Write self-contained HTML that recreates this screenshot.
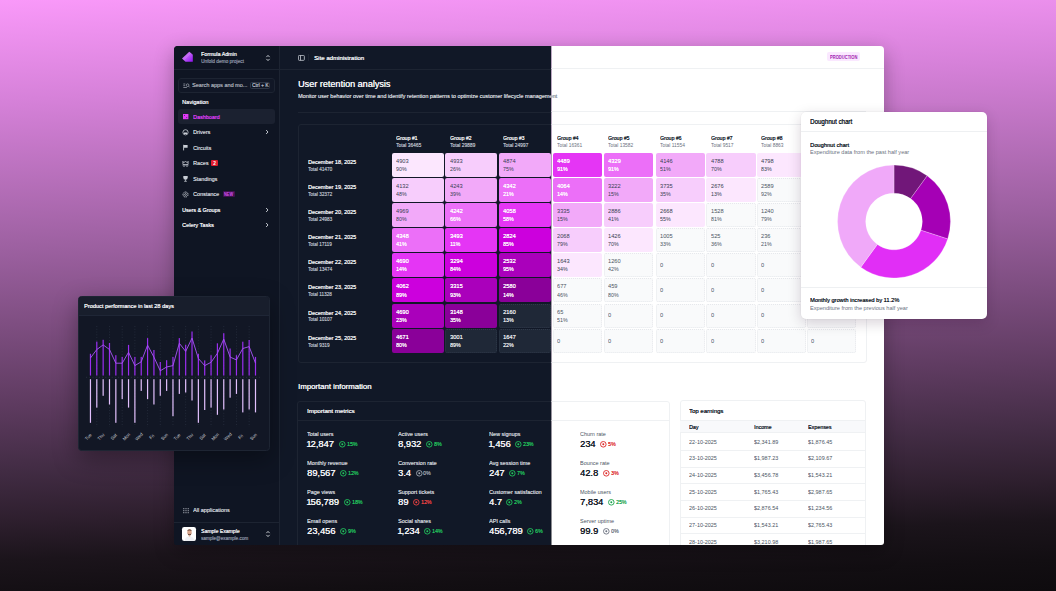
<!DOCTYPE html><html><head><meta charset="utf-8"><style>
*{margin:0;padding:0;box-sizing:border-box}
html,body{width:1056px;height:591px;overflow:hidden}
body{position:relative;font-family:"Liberation Sans", sans-serif;background:linear-gradient(177.8deg,rgb(249,153,249) 0px,rgb(214,129,217) 100px,rgb(156,96,160) 250px,rgb(96,60,98) 400px,rgb(66,44,68) 470px,rgb(46,31,46) 520px,rgb(27,20,27) 560px,rgb(18,14,18) 600px,rgb(14,11,14) 631px)}
.t{position:absolute;white-space:nowrap}
.r{position:absolute}
.abs{position:absolute}
#panel{position:absolute;left:174px;top:46px;width:710px;height:499px;border-radius:4px 4px 3px 3px;overflow:hidden;box-shadow:0 6px 20px rgba(0,0,0,.30)}
.inner{position:absolute;left:-174px;top:-46px;width:1056px;height:591px}
#dark{background:#111827;clip-path:inset(0 504.5px 0 0)}
#light{background:#ffffff;clip-path:inset(0 0 0 551.5px)}

</style></head><body>
<div id="panel">
<div id="dark" class="inner">
<div class="r" style="left:174.00px;top:46.00px;width:105.00px;height:545.00px;background:#0f1523"></div>
<div class="r" style="left:279.00px;top:46.00px;width:1.00px;height:545.00px;background:#1d2432"></div>
<div class="r" style="left:174.00px;top:68.80px;width:710.00px;height:1.00px;background:#1d2432"></div>
<svg class="abs" style="left:180px;top:50px" width="16" height="14" viewBox="180 50 16 14"><defs><linearGradient id="lg" x1="0" y1="0" x2="1" y2="1"><stop offset="0" stop-color="#f0a8fb"/><stop offset="0.45" stop-color="#c060f8"/><stop offset="1" stop-color="#9010f0"/></linearGradient></defs><polygon points="182,58.5 189.3,51.7 190.9,53 192.8,54.8 192.8,61.7 185.5,61.7" fill="url(#lg)"/><path d="M183.8 59.9 L190.4 53.3" stroke="#e8b0fb" stroke-width="0.5" opacity="0.6"/></svg>
<div class="t" style="left:200.95px;top:52px;font-size:5.4px;line-height:5.4px;color:#f3f4f6;font-weight:400;transform-origin:0 0;transform:scaleX(0.9824);text-shadow:0.3px 0 0 #f3f4f6;">Formula Admin</div>
<div class="t" style="left:200.65px;top:59px;font-size:5.1px;line-height:5.1px;color:#8b93a3;font-weight:400;transform-origin:0 0;transform:scaleX(0.9422);text-shadow:0.15px 0 0 #8b93a3;">Unfold demo project</div>
<svg class="abs" style="left:264.6px;top:53.7px" width="6" height="8" viewBox="0 0 6 8"><path d="M1.4 3.1 L3 1.4 L4.6 3.1 M1.4 4.9 L3 6.6 L4.6 4.9" stroke="#d4d8de" stroke-width="0.9" fill="none"/></svg>
<div class="r" style="left:177.50px;top:78.20px;width:97.50px;height:14.60px;border:0.9px solid #1d2432;border-radius:3px;background:#111726"></div>
<svg class="abs" style="left:182.5px;top:83px" width="8" height="6" viewBox="0 0 8 6"><g stroke="#a3a9b4" stroke-width="0.7" fill="none"><path d="M0.3 1h2 M0.3 2.7h1.8 M0.3 4.5h3.6"/><circle cx="4.6" cy="2.2" r="1.35"/><path d="M5.6 3.2l1.1 1.2"/></g></svg>
<div class="t" style="left:192.15px;top:82px;font-size:6.1px;line-height:6.1px;color:#a3a9b4;font-weight:400;transform-origin:0 0;transform:scaleX(0.9021);text-shadow:0.15px 0 0 #a3a9b4;">Search apps and mo...</div>
<div class="r" style="left:250.00px;top:82.20px;width:20.00px;height:6.50px;border:0.7px solid #2f3747;border-radius:1.5px;background:#121826"></div>
<div class="t" style="left:251.95px;top:84px;font-size:4.5px;line-height:4.5px;color:#b4bac4;font-weight:400;transform-origin:0 0;transform:scaleX(1.0899);text-shadow:0.15px 0 0 #b4bac4;">Ctrl + K</div>
<div class="t" style="left:182.15px;top:100px;font-size:5.5px;line-height:5.5px;color:#eef0f3;font-weight:400;transform-origin:0 0;transform:scaleX(1.0163);text-shadow:0.3px 0 0 #eef0f3;">Navigation</div>
<div class="r" style="left:178.00px;top:109.40px;width:97.00px;height:14.50px;background:#1b2130;border-radius:3px"></div>
<svg class="abs" style="left:182.8px;top:113.8px" width="6" height="6" viewBox="0 0 6 6"><rect x="0" y="0" width="5.4" height="5.2" fill="#e03af6"/><rect x="1.1" y="1.1" width="0.9" height="0.9" fill="#3a1a6a"/><rect x="3.3" y="3.2" width="0.9" height="0.9" fill="#3a1a6a"/></svg>
<div class="t" style="left:193.35px;top:115px;font-size:5.8px;line-height:5.8px;color:#d83cf0;font-weight:400;transform-origin:0 0;transform:scaleX(0.9398);text-shadow:0.3px 0 0 #d83cf0;">Dashboard</div>
<svg class="abs" style="left:182px;top:128.70px" width="7" height="7" viewBox="0 0 7 7"><circle cx="3.5" cy="3.3" r="2.6" fill="none" stroke="#c9ced6" stroke-width="0.8"/><path d="M2 3.6 h3 v1.3 h-3z" fill="#c9ced6"/></svg>
<div class="t" style="left:193.35px;top:130px;font-size:5.95px;line-height:5.95px;color:#c9ced6;font-weight:400;transform-origin:0 0;transform:scaleX(0.9211);text-shadow:0.15px 0 0 #c9ced6;">Drivers</div>
<svg class="abs" style="left:182px;top:144.20px" width="7" height="7" viewBox="0 0 7 7"><path d="M1.6 0.8 v5.6" stroke="#c9ced6" stroke-width="0.9"/><path d="M2 1 h3.6 v2.8 h-3.6z" fill="#c9ced6"/></svg>
<div class="t" style="left:193.35px;top:146px;font-size:5.95px;line-height:5.95px;color:#c9ced6;font-weight:400;transform-origin:0 0;transform:scaleX(0.9211);text-shadow:0.15px 0 0 #c9ced6;">Circuits</div>
<svg class="abs" style="left:182px;top:159.70px" width="7" height="7" viewBox="0 0 7 7"><path d="M0.9 1.3 l1 1.5 l1.6-1.8 l1.6 1.8 l1-1.5 v3.2 h-5.2z" fill="none" stroke="#c9ced6" stroke-width="0.75"/><circle cx="2" cy="5.6" r="0.9" fill="none" stroke="#c9ced6" stroke-width="0.6"/><circle cx="5" cy="5.6" r="0.9" fill="none" stroke="#c9ced6" stroke-width="0.6"/></svg>
<div class="t" style="left:193.35px;top:161px;font-size:5.95px;line-height:5.95px;color:#c9ced6;font-weight:400;transform-origin:0 0;transform:scaleX(0.9211);text-shadow:0.15px 0 0 #c9ced6;">Races</div>
<svg class="abs" style="left:182px;top:175.30px" width="7" height="7" viewBox="0 0 7 7"><path d="M1.3 0.9 h4.4 v1.6 a2.2 2.2 0 0 1 -4.4 0z" fill="#c9ced6"/><path d="M3.5 4.5 v1.4 M2.2 6.3 h2.6" stroke="#c9ced6" stroke-width="0.8"/></svg>
<div class="t" style="left:193.35px;top:177px;font-size:5.95px;line-height:5.95px;color:#c9ced6;font-weight:400;transform-origin:0 0;transform:scaleX(0.9211);text-shadow:0.15px 0 0 #c9ced6;">Standings</div>
<svg class="abs" style="left:182px;top:190.70px" width="7" height="7" viewBox="0 0 7 7"><circle cx="3.5" cy="3.5" r="2.5" fill="none" stroke="#c9ced6" stroke-width="0.9" stroke-dasharray="1.6 0.6"/><circle cx="3.5" cy="3.5" r="0.9" fill="none" stroke="#c9ced6" stroke-width="0.7"/></svg>
<div class="t" style="left:193.35px;top:192px;font-size:5.95px;line-height:5.95px;color:#c9ced6;font-weight:400;transform-origin:0 0;transform:scaleX(0.9211);text-shadow:0.15px 0 0 #c9ced6;">Constance</div>
<svg class="abs" style="left:265px;top:129.3px" width="4" height="6" viewBox="0 0 4 6"><path d="M1.1 1 L3 3 L1.1 5" stroke="#c7cbd3" stroke-width="0.95" fill="none"/></svg>
<div class="r" style="left:210.90px;top:159.90px;width:7.10px;height:6.60px;background:#e11d2e;border-radius:1px"></div>
<div class="t" style="left:213.15px;top:162px;font-size:4.8px;line-height:4.8px;color:#fff;font-weight:700;">2</div>
<div class="r" style="left:222.60px;top:191.10px;width:12.20px;height:6.10px;background:#3f1150;border-radius:1px"></div>
<div class="t" style="left:224.15px;top:193px;font-size:4.5px;line-height:4.5px;color:#d651f0;font-weight:700;transform-origin:0 0;transform:scaleX(0.8631);">NEW</div>
<div class="t" style="left:182.15px;top:208px;font-size:5.5px;line-height:5.5px;color:#eef0f3;font-weight:400;transform-origin:0 0;transform:scaleX(0.9755);text-shadow:0.3px 0 0 #eef0f3;">Users &amp; Groups</div>
<svg class="abs" style="left:265px;top:207.2px" width="4" height="6" viewBox="0 0 4 6"><path d="M1.1 1 L3 3 L1.1 5" stroke="#c7cbd3" stroke-width="0.95" fill="none"/></svg>
<div class="t" style="left:182.15px;top:223px;font-size:5.5px;line-height:5.5px;color:#eef0f3;font-weight:400;transform-origin:0 0;transform:scaleX(1.0114);text-shadow:0.3px 0 0 #eef0f3;">Celery Tasks</div>
<svg class="abs" style="left:265px;top:222.2px" width="4" height="6" viewBox="0 0 4 6"><path d="M1.1 1 L3 3 L1.1 5" stroke="#c7cbd3" stroke-width="0.95" fill="none"/></svg>
<svg class="abs" style="left:182.5px;top:507.7px" width="7" height="7" viewBox="0 0 7 7"><g fill="#c3c8d0"><rect x="0.3" y="0.2" width="1" height="1"/><rect x="2.5" y="0.2" width="1" height="1"/><rect x="4.7" y="0.2" width="1" height="1"/><rect x="0.3" y="2.2" width="1" height="1"/><rect x="2.5" y="2.2" width="1" height="1"/><rect x="4.7" y="2.2" width="1" height="1"/><rect x="0.3" y="4.2" width="1" height="1"/><rect x="2.5" y="4.2" width="1" height="1"/><rect x="4.7" y="4.2" width="1" height="1"/></g></svg>
<div class="t" style="left:193.25px;top:508px;font-size:5.65px;line-height:5.65px;color:#c9ced6;font-weight:400;transform-origin:0 0;transform:scaleX(0.9759);text-shadow:0.15px 0 0 #c9ced6;">All applications</div>
<div class="r" style="left:174.00px;top:522.40px;width:105.00px;height:1.00px;background:#1d2432"></div>
<div class="r" style="left:182.00px;top:526.90px;width:14.20px;height:14.00px;background:#ffffff;border-radius:2.2px"></div>
<svg class="abs" style="left:182px;top:526.9px" width="15" height="14" viewBox="0 0 15 14"><path d="M2.5 14 Q3 9.6 7.5 9.4 Q12 9.6 12.5 14Z" fill="#eef0f4"/><ellipse cx="7.5" cy="5.3" rx="2.2" ry="2.9" fill="#d9a58c"/><path d="M5.2 4.2 Q5.4 2.2 7.5 2.2 Q9.6 2.2 9.8 4.2 Q8.8 3.4 7.5 3.5 Q6.2 3.4 5.2 4.2Z" fill="#6b4a3a"/><path d="M5.6 6.2 Q6 8.6 7.5 8.6 Q9 8.6 9.4 6.2 Q8.6 7.4 7.5 7.3 Q6.4 7.4 5.6 6.2Z" fill="#5a4034"/><rect x="6.7" y="8.2" width="1.6" height="1.3" fill="#d9a58c"/></svg>
<div class="t" style="left:200.95px;top:529px;font-size:5.65px;line-height:5.65px;color:#eef0f3;font-weight:400;transform-origin:0 0;transform:scaleX(0.9060);text-shadow:0.3px 0 0 #eef0f3;">Sample Example</div>
<div class="t" style="left:200.95px;top:536px;font-size:5.25px;line-height:5.25px;color:#8b93a3;font-weight:400;transform-origin:0 0;transform:scaleX(0.8833);text-shadow:0.15px 0 0 #8b93a3;">sample@example.com</div>
<svg class="abs" style="left:264.6px;top:530.3px" width="6" height="8" viewBox="0 0 6 8"><path d="M1.4 3.1 L3 1.4 L4.6 3.1 M1.4 4.9 L3 6.6 L4.6 4.9" stroke="#d4d8de" stroke-width="0.9" fill="none"/></svg>
<svg class="abs" style="left:297.6px;top:54.6px" width="8" height="7" viewBox="0 0 8 7"><rect x="0.45" y="0.45" width="5.9" height="4.9" rx="0.8" fill="none" stroke="#c7cbd3" stroke-width="0.8"/><rect x="2.2" y="0.45" width="0.8" height="4.9" fill="#c7cbd3"/></svg>
<div class="r" style="left:308.20px;top:53.80px;width:0.70px;height:7.00px;background:#1d2432"></div>
<div class="t" style="left:313.75px;top:55px;font-size:6.1px;line-height:6.1px;color:#f3f4f6;font-weight:400;transform-origin:0 0;transform:scaleX(0.9972);text-shadow:0.3px 0 0 #f3f4f6;">Site administration</div>
<div class="t" style="left:298.15px;top:79px;font-size:9.5px;line-height:9.5px;color:#f3f4f6;font-weight:400;transform-origin:0 0;transform:scaleX(0.9555);text-shadow:0.3px 0 0 #f3f4f6;">User retention analysis</div>
<div class="t" style="left:298.15px;top:94px;font-size:5.65px;line-height:5.65px;color:#d1d5db;font-weight:400;transform-origin:0 0;transform:scaleX(0.9780);text-shadow:0.15px 0 0 #d1d5db;">Monitor user behavior over time and identify retention patterns to optimize customer lifecycle management</div>
<div class="r" style="left:297.60px;top:111.90px;width:568.90px;height:0.80px;background:#1d2432"></div>
<div class="r" style="left:297.50px;top:124.30px;width:569.00px;height:238.90px;border:0.9px solid #1d2432;border-radius:3px"></div>
<div class="t" style="left:307.75px;top:159px;font-size:6.25px;line-height:6.25px;color:#f3f4f6;font-weight:400;transform-origin:0 0;transform:scaleX(0.8772);text-shadow:0.3px 0 0 #f3f4f6;">December 18, 2025</div>
<div class="t" style="left:307.75px;top:168px;font-size:4.8px;line-height:4.8px;color:#b3b9c2;font-weight:400;transform-origin:0 0;transform:scaleX(0.9719);text-shadow:0.15px 0 0 #b3b9c2;">Total 41470</div>
<div class="t" style="left:307.75px;top:184px;font-size:6.25px;line-height:6.25px;color:#f3f4f6;font-weight:400;transform-origin:0 0;transform:scaleX(0.8772);text-shadow:0.3px 0 0 #f3f4f6;">December 19, 2025</div>
<div class="t" style="left:307.75px;top:193px;font-size:4.8px;line-height:4.8px;color:#b3b9c2;font-weight:400;transform-origin:0 0;transform:scaleX(0.9719);text-shadow:0.15px 0 0 #b3b9c2;">Total 32372</div>
<div class="t" style="left:307.75px;top:209px;font-size:6.25px;line-height:6.25px;color:#f3f4f6;font-weight:400;transform-origin:0 0;transform:scaleX(0.8772);text-shadow:0.3px 0 0 #f3f4f6;">December 20, 2025</div>
<div class="t" style="left:307.75px;top:218px;font-size:4.8px;line-height:4.8px;color:#b3b9c2;font-weight:400;transform-origin:0 0;transform:scaleX(0.9719);text-shadow:0.15px 0 0 #b3b9c2;">Total 24983</div>
<div class="t" style="left:307.75px;top:234px;font-size:6.25px;line-height:6.25px;color:#f3f4f6;font-weight:400;transform-origin:0 0;transform:scaleX(0.8772);text-shadow:0.3px 0 0 #f3f4f6;">December 21, 2025</div>
<div class="t" style="left:307.75px;top:243px;font-size:4.8px;line-height:4.8px;color:#b3b9c2;font-weight:400;transform-origin:0 0;transform:scaleX(0.9719);text-shadow:0.15px 0 0 #b3b9c2;">Total 17119</div>
<div class="t" style="left:307.75px;top:259px;font-size:6.25px;line-height:6.25px;color:#f3f4f6;font-weight:400;transform-origin:0 0;transform:scaleX(0.8772);text-shadow:0.3px 0 0 #f3f4f6;">December 22, 2025</div>
<div class="t" style="left:307.75px;top:268px;font-size:4.8px;line-height:4.8px;color:#b3b9c2;font-weight:400;transform-origin:0 0;transform:scaleX(0.9719);text-shadow:0.15px 0 0 #b3b9c2;">Total 13474</div>
<div class="t" style="left:307.75px;top:284px;font-size:6.25px;line-height:6.25px;color:#f3f4f6;font-weight:400;transform-origin:0 0;transform:scaleX(0.8772);text-shadow:0.3px 0 0 #f3f4f6;">December 23, 2025</div>
<div class="t" style="left:307.75px;top:293px;font-size:4.8px;line-height:4.8px;color:#b3b9c2;font-weight:400;transform-origin:0 0;transform:scaleX(0.9719);text-shadow:0.15px 0 0 #b3b9c2;">Total 11328</div>
<div class="t" style="left:307.75px;top:310px;font-size:6.25px;line-height:6.25px;color:#f3f4f6;font-weight:400;transform-origin:0 0;transform:scaleX(0.8772);text-shadow:0.3px 0 0 #f3f4f6;">December 24, 2025</div>
<div class="t" style="left:307.75px;top:318px;font-size:4.8px;line-height:4.8px;color:#b3b9c2;font-weight:400;transform-origin:0 0;transform:scaleX(0.9719);text-shadow:0.15px 0 0 #b3b9c2;">Total 10107</div>
<div class="t" style="left:307.75px;top:335px;font-size:6.25px;line-height:6.25px;color:#f3f4f6;font-weight:400;transform-origin:0 0;transform:scaleX(0.8772);text-shadow:0.3px 0 0 #f3f4f6;">December 25, 2025</div>
<div class="t" style="left:307.75px;top:344px;font-size:4.8px;line-height:4.8px;color:#b3b9c2;font-weight:400;transform-origin:0 0;transform:scaleX(0.9719);text-shadow:0.15px 0 0 #b3b9c2;">Total 9319</div>
<div class="t" style="left:396.25px;top:136px;font-size:5.65px;line-height:5.65px;color:#f3f4f6;font-weight:400;transform-origin:0 0;transform:scaleX(0.9107);text-shadow:0.3px 0 0 #f3f4f6;">Group #1</div>
<div class="t" style="left:396.25px;top:143px;font-size:5.4px;line-height:5.4px;color:#b3b9c2;font-weight:400;transform-origin:0 0;transform:scaleX(0.9064);text-shadow:0.15px 0 0 #b3b9c2;">Total 36465</div>
<div class="r" style="left:391.90px;top:152.70px;width:52.10px;height:24.00px;background:#fce7fe;border-radius:2px"></div>
<div class="t" style="left:396.25px;top:159px;font-size:5.4px;line-height:5.4px;color:#374151;font-weight:400;transform-origin:0 0;transform:scaleX(1.0554);">4903</div>
<div class="t" style="left:396.25px;top:167px;font-size:5.5px;line-height:5.5px;color:#374151;font-weight:400;transform-origin:0 0;transform:scaleX(0.9686);">90%</div>
<div class="r" style="left:391.90px;top:177.85px;width:52.10px;height:24.00px;background:#f7cdfc;border-radius:2px"></div>
<div class="t" style="left:396.25px;top:184px;font-size:5.4px;line-height:5.4px;color:#374151;font-weight:400;transform-origin:0 0;transform:scaleX(1.0554);">4132</div>
<div class="t" style="left:396.25px;top:192px;font-size:5.5px;line-height:5.5px;color:#374151;font-weight:400;transform-origin:0 0;transform:scaleX(0.9686);">48%</div>
<div class="r" style="left:391.90px;top:203.00px;width:52.10px;height:24.00px;background:#f2a9f9;border-radius:2px"></div>
<div class="t" style="left:396.25px;top:209px;font-size:5.4px;line-height:5.4px;color:#374151;font-weight:400;transform-origin:0 0;transform:scaleX(1.0554);">4969</div>
<div class="t" style="left:396.25px;top:217px;font-size:5.5px;line-height:5.5px;color:#374151;font-weight:400;transform-origin:0 0;transform:scaleX(0.9686);">80%</div>
<div class="r" style="left:391.90px;top:228.15px;width:52.10px;height:24.00px;background:#ec6ff8;border-radius:2px"></div>
<div class="t" style="left:396.25px;top:234px;font-size:5.4px;line-height:5.4px;color:#ffffff;font-weight:400;transform-origin:0 0;transform:scaleX(1.0554);text-shadow:0.15px 0 0 #ffffff;">4348</div>
<div class="t" style="left:396.25px;top:242px;font-size:5.5px;line-height:5.5px;color:#ffffff;font-weight:400;transform-origin:0 0;transform:scaleX(0.9686);text-shadow:0.15px 0 0 #ffffff;">41%</div>
<div class="r" style="left:391.90px;top:253.30px;width:52.10px;height:24.00px;background:#e535f5;border-radius:2px"></div>
<div class="t" style="left:396.25px;top:259px;font-size:5.4px;line-height:5.4px;color:#ffffff;font-weight:400;transform-origin:0 0;transform:scaleX(1.0554);text-shadow:0.15px 0 0 #ffffff;">4690</div>
<div class="t" style="left:396.25px;top:267px;font-size:5.5px;line-height:5.5px;color:#ffffff;font-weight:400;transform-origin:0 0;transform:scaleX(0.9686);text-shadow:0.15px 0 0 #ffffff;">14%</div>
<div class="r" style="left:391.90px;top:278.45px;width:52.10px;height:24.00px;background:#cc00dd;border-radius:2px"></div>
<div class="t" style="left:396.25px;top:284px;font-size:5.4px;line-height:5.4px;color:#ffffff;font-weight:400;transform-origin:0 0;transform:scaleX(1.0554);text-shadow:0.15px 0 0 #ffffff;">4062</div>
<div class="t" style="left:396.25px;top:293px;font-size:5.5px;line-height:5.5px;color:#ffffff;font-weight:400;transform-origin:0 0;transform:scaleX(0.9686);text-shadow:0.15px 0 0 #ffffff;">89%</div>
<div class="r" style="left:391.90px;top:303.60px;width:52.10px;height:24.00px;background:#aa00bb;border-radius:2px"></div>
<div class="t" style="left:396.25px;top:310px;font-size:5.4px;line-height:5.4px;color:#ffffff;font-weight:400;transform-origin:0 0;transform:scaleX(1.0554);text-shadow:0.15px 0 0 #ffffff;">4690</div>
<div class="t" style="left:396.25px;top:318px;font-size:5.5px;line-height:5.5px;color:#ffffff;font-weight:400;transform-origin:0 0;transform:scaleX(0.9686);text-shadow:0.15px 0 0 #ffffff;">23%</div>
<div class="r" style="left:391.90px;top:328.75px;width:52.10px;height:24.00px;background:#8a0099;border-radius:2px"></div>
<div class="t" style="left:396.25px;top:335px;font-size:5.4px;line-height:5.4px;color:#ffffff;font-weight:400;transform-origin:0 0;transform:scaleX(1.0554);text-shadow:0.15px 0 0 #ffffff;">4671</div>
<div class="t" style="left:396.25px;top:343px;font-size:5.5px;line-height:5.5px;color:#ffffff;font-weight:400;transform-origin:0 0;transform:scaleX(0.9686);text-shadow:0.15px 0 0 #ffffff;">80%</div>
<div class="t" style="left:449.65px;top:136px;font-size:5.65px;line-height:5.65px;color:#f3f4f6;font-weight:400;transform-origin:0 0;transform:scaleX(0.9107);text-shadow:0.3px 0 0 #f3f4f6;">Group #2</div>
<div class="t" style="left:449.65px;top:143px;font-size:5.4px;line-height:5.4px;color:#b3b9c2;font-weight:400;transform-origin:0 0;transform:scaleX(0.9064);text-shadow:0.15px 0 0 #b3b9c2;">Total 29889</div>
<div class="r" style="left:445.30px;top:152.70px;width:52.10px;height:24.00px;background:#f7cdfc;border-radius:2px"></div>
<div class="t" style="left:449.65px;top:159px;font-size:5.4px;line-height:5.4px;color:#374151;font-weight:400;transform-origin:0 0;transform:scaleX(1.0554);">4933</div>
<div class="t" style="left:449.65px;top:167px;font-size:5.5px;line-height:5.5px;color:#374151;font-weight:400;transform-origin:0 0;transform:scaleX(0.9686);">26%</div>
<div class="r" style="left:445.30px;top:177.85px;width:52.10px;height:24.00px;background:#f2a9f9;border-radius:2px"></div>
<div class="t" style="left:449.65px;top:184px;font-size:5.4px;line-height:5.4px;color:#374151;font-weight:400;transform-origin:0 0;transform:scaleX(1.0554);">4243</div>
<div class="t" style="left:449.65px;top:192px;font-size:5.5px;line-height:5.5px;color:#374151;font-weight:400;transform-origin:0 0;transform:scaleX(0.9686);">39%</div>
<div class="r" style="left:445.30px;top:203.00px;width:52.10px;height:24.00px;background:#ec6ff8;border-radius:2px"></div>
<div class="t" style="left:449.65px;top:209px;font-size:5.4px;line-height:5.4px;color:#ffffff;font-weight:400;transform-origin:0 0;transform:scaleX(1.0554);text-shadow:0.15px 0 0 #ffffff;">4242</div>
<div class="t" style="left:449.65px;top:217px;font-size:5.5px;line-height:5.5px;color:#ffffff;font-weight:400;transform-origin:0 0;transform:scaleX(0.9686);text-shadow:0.15px 0 0 #ffffff;">66%</div>
<div class="r" style="left:445.30px;top:228.15px;width:52.10px;height:24.00px;background:#e535f5;border-radius:2px"></div>
<div class="t" style="left:449.65px;top:234px;font-size:5.4px;line-height:5.4px;color:#ffffff;font-weight:400;transform-origin:0 0;transform:scaleX(1.0554);text-shadow:0.15px 0 0 #ffffff;">3493</div>
<div class="t" style="left:449.65px;top:242px;font-size:5.5px;line-height:5.5px;color:#ffffff;font-weight:400;transform-origin:0 0;transform:scaleX(0.9686);text-shadow:0.15px 0 0 #ffffff;">11%</div>
<div class="r" style="left:445.30px;top:253.30px;width:52.10px;height:24.00px;background:#cc00dd;border-radius:2px"></div>
<div class="t" style="left:449.65px;top:259px;font-size:5.4px;line-height:5.4px;color:#ffffff;font-weight:400;transform-origin:0 0;transform:scaleX(1.0554);text-shadow:0.15px 0 0 #ffffff;">3294</div>
<div class="t" style="left:449.65px;top:267px;font-size:5.5px;line-height:5.5px;color:#ffffff;font-weight:400;transform-origin:0 0;transform:scaleX(0.9686);text-shadow:0.15px 0 0 #ffffff;">84%</div>
<div class="r" style="left:445.30px;top:278.45px;width:52.10px;height:24.00px;background:#aa00bb;border-radius:2px"></div>
<div class="t" style="left:449.65px;top:284px;font-size:5.4px;line-height:5.4px;color:#ffffff;font-weight:400;transform-origin:0 0;transform:scaleX(1.0554);text-shadow:0.15px 0 0 #ffffff;">3315</div>
<div class="t" style="left:449.65px;top:293px;font-size:5.5px;line-height:5.5px;color:#ffffff;font-weight:400;transform-origin:0 0;transform:scaleX(0.9686);text-shadow:0.15px 0 0 #ffffff;">93%</div>
<div class="r" style="left:445.30px;top:303.60px;width:52.10px;height:24.00px;background:#8a0099;border-radius:2px"></div>
<div class="t" style="left:449.65px;top:310px;font-size:5.4px;line-height:5.4px;color:#ffffff;font-weight:400;transform-origin:0 0;transform:scaleX(1.0554);text-shadow:0.15px 0 0 #ffffff;">3148</div>
<div class="t" style="left:449.65px;top:318px;font-size:5.5px;line-height:5.5px;color:#ffffff;font-weight:400;transform-origin:0 0;transform:scaleX(0.9686);text-shadow:0.15px 0 0 #ffffff;">35%</div>
<div class="r" style="left:445.30px;top:328.75px;width:52.10px;height:24.00px;background:#1f2837;border:0.7px dotted #2f3949;border-radius:2px"></div>
<div class="t" style="left:449.65px;top:335px;font-size:5.4px;line-height:5.4px;color:#e5e7eb;font-weight:400;transform-origin:0 0;transform:scaleX(1.0554);text-shadow:0.15px 0 0 #e5e7eb;">3001</div>
<div class="t" style="left:449.65px;top:343px;font-size:5.5px;line-height:5.5px;color:#e5e7eb;font-weight:400;transform-origin:0 0;transform:scaleX(0.9686);text-shadow:0.15px 0 0 #e5e7eb;">89%</div>
<div class="t" style="left:503.15px;top:136px;font-size:5.65px;line-height:5.65px;color:#f3f4f6;font-weight:400;transform-origin:0 0;transform:scaleX(0.9107);text-shadow:0.3px 0 0 #f3f4f6;">Group #3</div>
<div class="t" style="left:503.15px;top:143px;font-size:5.4px;line-height:5.4px;color:#b3b9c2;font-weight:400;transform-origin:0 0;transform:scaleX(0.9064);text-shadow:0.15px 0 0 #b3b9c2;">Total 24997</div>
<div class="r" style="left:498.80px;top:152.70px;width:52.10px;height:24.00px;background:#f2a9f9;border-radius:2px"></div>
<div class="t" style="left:503.15px;top:159px;font-size:5.4px;line-height:5.4px;color:#374151;font-weight:400;transform-origin:0 0;transform:scaleX(1.0554);">4874</div>
<div class="t" style="left:503.15px;top:167px;font-size:5.5px;line-height:5.5px;color:#374151;font-weight:400;transform-origin:0 0;transform:scaleX(0.9686);">75%</div>
<div class="r" style="left:498.80px;top:177.85px;width:52.10px;height:24.00px;background:#ec6ff8;border-radius:2px"></div>
<div class="t" style="left:503.15px;top:184px;font-size:5.4px;line-height:5.4px;color:#ffffff;font-weight:400;transform-origin:0 0;transform:scaleX(1.0554);text-shadow:0.15px 0 0 #ffffff;">4342</div>
<div class="t" style="left:503.15px;top:192px;font-size:5.5px;line-height:5.5px;color:#ffffff;font-weight:400;transform-origin:0 0;transform:scaleX(0.9686);text-shadow:0.15px 0 0 #ffffff;">21%</div>
<div class="r" style="left:498.80px;top:203.00px;width:52.10px;height:24.00px;background:#e535f5;border-radius:2px"></div>
<div class="t" style="left:503.15px;top:209px;font-size:5.4px;line-height:5.4px;color:#ffffff;font-weight:400;transform-origin:0 0;transform:scaleX(1.0554);text-shadow:0.15px 0 0 #ffffff;">4058</div>
<div class="t" style="left:503.15px;top:217px;font-size:5.5px;line-height:5.5px;color:#ffffff;font-weight:400;transform-origin:0 0;transform:scaleX(0.9686);text-shadow:0.15px 0 0 #ffffff;">58%</div>
<div class="r" style="left:498.80px;top:228.15px;width:52.10px;height:24.00px;background:#cc00dd;border-radius:2px"></div>
<div class="t" style="left:503.15px;top:234px;font-size:5.4px;line-height:5.4px;color:#ffffff;font-weight:400;transform-origin:0 0;transform:scaleX(1.0554);text-shadow:0.15px 0 0 #ffffff;">2824</div>
<div class="t" style="left:503.15px;top:242px;font-size:5.5px;line-height:5.5px;color:#ffffff;font-weight:400;transform-origin:0 0;transform:scaleX(0.9686);text-shadow:0.15px 0 0 #ffffff;">85%</div>
<div class="r" style="left:498.80px;top:253.30px;width:52.10px;height:24.00px;background:#aa00bb;border-radius:2px"></div>
<div class="t" style="left:503.15px;top:259px;font-size:5.4px;line-height:5.4px;color:#ffffff;font-weight:400;transform-origin:0 0;transform:scaleX(1.0554);text-shadow:0.15px 0 0 #ffffff;">2532</div>
<div class="t" style="left:503.15px;top:267px;font-size:5.5px;line-height:5.5px;color:#ffffff;font-weight:400;transform-origin:0 0;transform:scaleX(0.9686);text-shadow:0.15px 0 0 #ffffff;">95%</div>
<div class="r" style="left:498.80px;top:278.45px;width:52.10px;height:24.00px;background:#8a0099;border-radius:2px"></div>
<div class="t" style="left:503.15px;top:284px;font-size:5.4px;line-height:5.4px;color:#ffffff;font-weight:400;transform-origin:0 0;transform:scaleX(1.0554);text-shadow:0.15px 0 0 #ffffff;">2580</div>
<div class="t" style="left:503.15px;top:293px;font-size:5.5px;line-height:5.5px;color:#ffffff;font-weight:400;transform-origin:0 0;transform:scaleX(0.9686);text-shadow:0.15px 0 0 #ffffff;">14%</div>
<div class="r" style="left:498.80px;top:303.60px;width:52.10px;height:24.00px;background:#1f2837;border:0.7px dotted #2f3949;border-radius:2px"></div>
<div class="t" style="left:503.15px;top:310px;font-size:5.4px;line-height:5.4px;color:#e5e7eb;font-weight:400;transform-origin:0 0;transform:scaleX(1.0554);text-shadow:0.15px 0 0 #e5e7eb;">2160</div>
<div class="t" style="left:503.15px;top:318px;font-size:5.5px;line-height:5.5px;color:#e5e7eb;font-weight:400;transform-origin:0 0;transform:scaleX(0.9686);text-shadow:0.15px 0 0 #e5e7eb;">13%</div>
<div class="r" style="left:498.80px;top:328.75px;width:52.10px;height:24.00px;background:#1f2837;border:0.7px dotted #2f3949;border-radius:2px"></div>
<div class="t" style="left:503.15px;top:335px;font-size:5.4px;line-height:5.4px;color:#e5e7eb;font-weight:400;transform-origin:0 0;transform:scaleX(1.0554);text-shadow:0.15px 0 0 #e5e7eb;">1647</div>
<div class="t" style="left:503.15px;top:343px;font-size:5.5px;line-height:5.5px;color:#e5e7eb;font-weight:400;transform-origin:0 0;transform:scaleX(0.9686);text-shadow:0.15px 0 0 #e5e7eb;">22%</div>
<div class="t" style="left:557.35px;top:136px;font-size:5.65px;line-height:5.65px;color:#f3f4f6;font-weight:400;transform-origin:0 0;transform:scaleX(0.9107);text-shadow:0.3px 0 0 #f3f4f6;">Group #4</div>
<div class="t" style="left:557.35px;top:143px;font-size:5.4px;line-height:5.4px;color:#b3b9c2;font-weight:400;transform-origin:0 0;transform:scaleX(0.9064);text-shadow:0.15px 0 0 #b3b9c2;">Total 16361</div>
<div class="r" style="left:553.00px;top:152.70px;width:49.40px;height:24.00px;background:#ec6ff8;border-radius:2px"></div>
<div class="t" style="left:557.35px;top:159px;font-size:5.4px;line-height:5.4px;color:#ffffff;font-weight:400;transform-origin:0 0;transform:scaleX(1.0554);text-shadow:0.15px 0 0 #ffffff;">4489</div>
<div class="t" style="left:557.35px;top:167px;font-size:5.5px;line-height:5.5px;color:#ffffff;font-weight:400;transform-origin:0 0;transform:scaleX(0.9686);text-shadow:0.15px 0 0 #ffffff;">91%</div>
<div class="r" style="left:553.00px;top:177.85px;width:49.40px;height:24.00px;background:#e535f5;border-radius:2px"></div>
<div class="t" style="left:557.35px;top:184px;font-size:5.4px;line-height:5.4px;color:#ffffff;font-weight:400;transform-origin:0 0;transform:scaleX(1.0554);text-shadow:0.15px 0 0 #ffffff;">4064</div>
<div class="t" style="left:557.35px;top:192px;font-size:5.5px;line-height:5.5px;color:#ffffff;font-weight:400;transform-origin:0 0;transform:scaleX(0.9686);text-shadow:0.15px 0 0 #ffffff;">14%</div>
<div class="r" style="left:553.00px;top:203.00px;width:49.40px;height:24.00px;background:#cc00dd;border-radius:2px"></div>
<div class="t" style="left:557.35px;top:209px;font-size:5.4px;line-height:5.4px;color:#ffffff;font-weight:400;transform-origin:0 0;transform:scaleX(1.0554);text-shadow:0.15px 0 0 #ffffff;">3335</div>
<div class="t" style="left:557.35px;top:217px;font-size:5.5px;line-height:5.5px;color:#ffffff;font-weight:400;transform-origin:0 0;transform:scaleX(0.9686);text-shadow:0.15px 0 0 #ffffff;">15%</div>
<div class="r" style="left:553.00px;top:228.15px;width:49.40px;height:24.00px;background:#aa00bb;border-radius:2px"></div>
<div class="t" style="left:557.35px;top:234px;font-size:5.4px;line-height:5.4px;color:#ffffff;font-weight:400;transform-origin:0 0;transform:scaleX(1.0554);text-shadow:0.15px 0 0 #ffffff;">2068</div>
<div class="t" style="left:557.35px;top:242px;font-size:5.5px;line-height:5.5px;color:#ffffff;font-weight:400;transform-origin:0 0;transform:scaleX(0.9686);text-shadow:0.15px 0 0 #ffffff;">79%</div>
<div class="r" style="left:553.00px;top:253.30px;width:49.40px;height:24.00px;background:#8a0099;border-radius:2px"></div>
<div class="t" style="left:557.35px;top:259px;font-size:5.4px;line-height:5.4px;color:#ffffff;font-weight:400;transform-origin:0 0;transform:scaleX(1.0554);text-shadow:0.15px 0 0 #ffffff;">1643</div>
<div class="t" style="left:557.35px;top:267px;font-size:5.5px;line-height:5.5px;color:#ffffff;font-weight:400;transform-origin:0 0;transform:scaleX(0.9686);text-shadow:0.15px 0 0 #ffffff;">34%</div>
<div class="r" style="left:553.00px;top:278.45px;width:49.40px;height:24.00px;background:#1f2837;border:0.7px dotted #2f3949;border-radius:2px"></div>
<div class="t" style="left:557.35px;top:284px;font-size:5.4px;line-height:5.4px;color:#e5e7eb;font-weight:400;transform-origin:0 0;transform:scaleX(1.0554);text-shadow:0.15px 0 0 #e5e7eb;">677</div>
<div class="t" style="left:557.35px;top:293px;font-size:5.5px;line-height:5.5px;color:#e5e7eb;font-weight:400;transform-origin:0 0;transform:scaleX(0.9686);text-shadow:0.15px 0 0 #e5e7eb;">46%</div>
<div class="r" style="left:553.00px;top:303.60px;width:49.40px;height:24.00px;background:#1f2837;border:0.7px dotted #2f3949;border-radius:2px"></div>
<div class="t" style="left:557.35px;top:310px;font-size:5.4px;line-height:5.4px;color:#e5e7eb;font-weight:400;transform-origin:0 0;transform:scaleX(1.0554);text-shadow:0.15px 0 0 #e5e7eb;">65</div>
<div class="t" style="left:557.35px;top:318px;font-size:5.5px;line-height:5.5px;color:#e5e7eb;font-weight:400;transform-origin:0 0;transform:scaleX(0.9686);text-shadow:0.15px 0 0 #e5e7eb;">51%</div>
<div class="r" style="left:553.00px;top:328.75px;width:49.40px;height:24.00px;background:#1f2837;border:0.7px dotted #2f3949;border-radius:2px"></div>
<div class="t" style="left:557.35px;top:339px;font-size:5.4px;line-height:5.4px;color:#e5e7eb;font-weight:400;transform-origin:0 0;transform:scaleX(1.0554);text-shadow:0.15px 0 0 #e5e7eb;">0</div>
<div class="t" style="left:608.35px;top:136px;font-size:5.65px;line-height:5.65px;color:#f3f4f6;font-weight:400;transform-origin:0 0;transform:scaleX(0.9107);text-shadow:0.3px 0 0 #f3f4f6;">Group #5</div>
<div class="t" style="left:608.35px;top:143px;font-size:5.4px;line-height:5.4px;color:#b3b9c2;font-weight:400;transform-origin:0 0;transform:scaleX(0.9064);text-shadow:0.15px 0 0 #b3b9c2;">Total 13582</div>
<div class="r" style="left:604.00px;top:152.70px;width:49.40px;height:24.00px;background:#e535f5;border-radius:2px"></div>
<div class="t" style="left:608.35px;top:159px;font-size:5.4px;line-height:5.4px;color:#ffffff;font-weight:400;transform-origin:0 0;transform:scaleX(1.0554);text-shadow:0.15px 0 0 #ffffff;">4329</div>
<div class="t" style="left:608.35px;top:167px;font-size:5.5px;line-height:5.5px;color:#ffffff;font-weight:400;transform-origin:0 0;transform:scaleX(0.9686);text-shadow:0.15px 0 0 #ffffff;">91%</div>
<div class="r" style="left:604.00px;top:177.85px;width:49.40px;height:24.00px;background:#cc00dd;border-radius:2px"></div>
<div class="t" style="left:608.35px;top:184px;font-size:5.4px;line-height:5.4px;color:#ffffff;font-weight:400;transform-origin:0 0;transform:scaleX(1.0554);text-shadow:0.15px 0 0 #ffffff;">3222</div>
<div class="t" style="left:608.35px;top:192px;font-size:5.5px;line-height:5.5px;color:#ffffff;font-weight:400;transform-origin:0 0;transform:scaleX(0.9686);text-shadow:0.15px 0 0 #ffffff;">15%</div>
<div class="r" style="left:604.00px;top:203.00px;width:49.40px;height:24.00px;background:#aa00bb;border-radius:2px"></div>
<div class="t" style="left:608.35px;top:209px;font-size:5.4px;line-height:5.4px;color:#ffffff;font-weight:400;transform-origin:0 0;transform:scaleX(1.0554);text-shadow:0.15px 0 0 #ffffff;">2886</div>
<div class="t" style="left:608.35px;top:217px;font-size:5.5px;line-height:5.5px;color:#ffffff;font-weight:400;transform-origin:0 0;transform:scaleX(0.9686);text-shadow:0.15px 0 0 #ffffff;">41%</div>
<div class="r" style="left:604.00px;top:228.15px;width:49.40px;height:24.00px;background:#8a0099;border-radius:2px"></div>
<div class="t" style="left:608.35px;top:234px;font-size:5.4px;line-height:5.4px;color:#ffffff;font-weight:400;transform-origin:0 0;transform:scaleX(1.0554);text-shadow:0.15px 0 0 #ffffff;">1426</div>
<div class="t" style="left:608.35px;top:242px;font-size:5.5px;line-height:5.5px;color:#ffffff;font-weight:400;transform-origin:0 0;transform:scaleX(0.9686);text-shadow:0.15px 0 0 #ffffff;">70%</div>
<div class="r" style="left:604.00px;top:253.30px;width:49.40px;height:24.00px;background:#1f2837;border:0.7px dotted #2f3949;border-radius:2px"></div>
<div class="t" style="left:608.35px;top:259px;font-size:5.4px;line-height:5.4px;color:#e5e7eb;font-weight:400;transform-origin:0 0;transform:scaleX(1.0554);text-shadow:0.15px 0 0 #e5e7eb;">1260</div>
<div class="t" style="left:608.35px;top:267px;font-size:5.5px;line-height:5.5px;color:#e5e7eb;font-weight:400;transform-origin:0 0;transform:scaleX(0.9686);text-shadow:0.15px 0 0 #e5e7eb;">42%</div>
<div class="r" style="left:604.00px;top:278.45px;width:49.40px;height:24.00px;background:#1f2837;border:0.7px dotted #2f3949;border-radius:2px"></div>
<div class="t" style="left:608.35px;top:284px;font-size:5.4px;line-height:5.4px;color:#e5e7eb;font-weight:400;transform-origin:0 0;transform:scaleX(1.0554);text-shadow:0.15px 0 0 #e5e7eb;">459</div>
<div class="t" style="left:608.35px;top:293px;font-size:5.5px;line-height:5.5px;color:#e5e7eb;font-weight:400;transform-origin:0 0;transform:scaleX(0.9686);text-shadow:0.15px 0 0 #e5e7eb;">80%</div>
<div class="r" style="left:604.00px;top:303.60px;width:49.40px;height:24.00px;background:#1f2837;border:0.7px dotted #2f3949;border-radius:2px"></div>
<div class="t" style="left:608.35px;top:313px;font-size:5.4px;line-height:5.4px;color:#e5e7eb;font-weight:400;transform-origin:0 0;transform:scaleX(1.0554);text-shadow:0.15px 0 0 #e5e7eb;">0</div>
<div class="r" style="left:604.00px;top:328.75px;width:49.40px;height:24.00px;background:#1f2837;border:0.7px dotted #2f3949;border-radius:2px"></div>
<div class="t" style="left:608.35px;top:339px;font-size:5.4px;line-height:5.4px;color:#e5e7eb;font-weight:400;transform-origin:0 0;transform:scaleX(1.0554);text-shadow:0.15px 0 0 #e5e7eb;">0</div>
<div class="t" style="left:660.25px;top:136px;font-size:5.65px;line-height:5.65px;color:#f3f4f6;font-weight:400;transform-origin:0 0;transform:scaleX(0.9107);text-shadow:0.3px 0 0 #f3f4f6;">Group #6</div>
<div class="t" style="left:660.25px;top:143px;font-size:5.4px;line-height:5.4px;color:#b3b9c2;font-weight:400;transform-origin:0 0;transform:scaleX(0.9064);text-shadow:0.15px 0 0 #b3b9c2;">Total 11554</div>
<div class="r" style="left:655.90px;top:152.70px;width:49.40px;height:24.00px;background:#cc00dd;border-radius:2px"></div>
<div class="t" style="left:660.25px;top:159px;font-size:5.4px;line-height:5.4px;color:#ffffff;font-weight:400;transform-origin:0 0;transform:scaleX(1.0554);text-shadow:0.15px 0 0 #ffffff;">4146</div>
<div class="t" style="left:660.25px;top:167px;font-size:5.5px;line-height:5.5px;color:#ffffff;font-weight:400;transform-origin:0 0;transform:scaleX(0.9686);text-shadow:0.15px 0 0 #ffffff;">51%</div>
<div class="r" style="left:655.90px;top:177.85px;width:49.40px;height:24.00px;background:#aa00bb;border-radius:2px"></div>
<div class="t" style="left:660.25px;top:184px;font-size:5.4px;line-height:5.4px;color:#ffffff;font-weight:400;transform-origin:0 0;transform:scaleX(1.0554);text-shadow:0.15px 0 0 #ffffff;">3735</div>
<div class="t" style="left:660.25px;top:192px;font-size:5.5px;line-height:5.5px;color:#ffffff;font-weight:400;transform-origin:0 0;transform:scaleX(0.9686);text-shadow:0.15px 0 0 #ffffff;">35%</div>
<div class="r" style="left:655.90px;top:203.00px;width:49.40px;height:24.00px;background:#8a0099;border-radius:2px"></div>
<div class="t" style="left:660.25px;top:209px;font-size:5.4px;line-height:5.4px;color:#ffffff;font-weight:400;transform-origin:0 0;transform:scaleX(1.0554);text-shadow:0.15px 0 0 #ffffff;">2668</div>
<div class="t" style="left:660.25px;top:217px;font-size:5.5px;line-height:5.5px;color:#ffffff;font-weight:400;transform-origin:0 0;transform:scaleX(0.9686);text-shadow:0.15px 0 0 #ffffff;">55%</div>
<div class="r" style="left:655.90px;top:228.15px;width:49.40px;height:24.00px;background:#1f2837;border:0.7px dotted #2f3949;border-radius:2px"></div>
<div class="t" style="left:660.25px;top:234px;font-size:5.4px;line-height:5.4px;color:#e5e7eb;font-weight:400;transform-origin:0 0;transform:scaleX(1.0554);text-shadow:0.15px 0 0 #e5e7eb;">1005</div>
<div class="t" style="left:660.25px;top:242px;font-size:5.5px;line-height:5.5px;color:#e5e7eb;font-weight:400;transform-origin:0 0;transform:scaleX(0.9686);text-shadow:0.15px 0 0 #e5e7eb;">33%</div>
<div class="r" style="left:655.90px;top:253.30px;width:49.40px;height:24.00px;background:#1f2837;border:0.7px dotted #2f3949;border-radius:2px"></div>
<div class="t" style="left:660.25px;top:263px;font-size:5.4px;line-height:5.4px;color:#e5e7eb;font-weight:400;transform-origin:0 0;transform:scaleX(1.0554);text-shadow:0.15px 0 0 #e5e7eb;">0</div>
<div class="r" style="left:655.90px;top:278.45px;width:49.40px;height:24.00px;background:#1f2837;border:0.7px dotted #2f3949;border-radius:2px"></div>
<div class="t" style="left:660.25px;top:288px;font-size:5.4px;line-height:5.4px;color:#e5e7eb;font-weight:400;transform-origin:0 0;transform:scaleX(1.0554);text-shadow:0.15px 0 0 #e5e7eb;">0</div>
<div class="r" style="left:655.90px;top:303.60px;width:49.40px;height:24.00px;background:#1f2837;border:0.7px dotted #2f3949;border-radius:2px"></div>
<div class="t" style="left:660.25px;top:313px;font-size:5.4px;line-height:5.4px;color:#e5e7eb;font-weight:400;transform-origin:0 0;transform:scaleX(1.0554);text-shadow:0.15px 0 0 #e5e7eb;">0</div>
<div class="r" style="left:655.90px;top:328.75px;width:49.40px;height:24.00px;background:#1f2837;border:0.7px dotted #2f3949;border-radius:2px"></div>
<div class="t" style="left:660.25px;top:339px;font-size:5.4px;line-height:5.4px;color:#e5e7eb;font-weight:400;transform-origin:0 0;transform:scaleX(1.0554);text-shadow:0.15px 0 0 #e5e7eb;">0</div>
<div class="t" style="left:710.65px;top:136px;font-size:5.65px;line-height:5.65px;color:#f3f4f6;font-weight:400;transform-origin:0 0;transform:scaleX(0.9107);text-shadow:0.3px 0 0 #f3f4f6;">Group #7</div>
<div class="t" style="left:710.65px;top:143px;font-size:5.4px;line-height:5.4px;color:#b3b9c2;font-weight:400;transform-origin:0 0;transform:scaleX(0.9064);text-shadow:0.15px 0 0 #b3b9c2;">Total 9517</div>
<div class="r" style="left:706.30px;top:152.70px;width:49.40px;height:24.00px;background:#aa00bb;border-radius:2px"></div>
<div class="t" style="left:710.65px;top:159px;font-size:5.4px;line-height:5.4px;color:#ffffff;font-weight:400;transform-origin:0 0;transform:scaleX(1.0554);text-shadow:0.15px 0 0 #ffffff;">4788</div>
<div class="t" style="left:710.65px;top:167px;font-size:5.5px;line-height:5.5px;color:#ffffff;font-weight:400;transform-origin:0 0;transform:scaleX(0.9686);text-shadow:0.15px 0 0 #ffffff;">70%</div>
<div class="r" style="left:706.30px;top:177.85px;width:49.40px;height:24.00px;background:#8a0099;border-radius:2px"></div>
<div class="t" style="left:710.65px;top:184px;font-size:5.4px;line-height:5.4px;color:#ffffff;font-weight:400;transform-origin:0 0;transform:scaleX(1.0554);text-shadow:0.15px 0 0 #ffffff;">2676</div>
<div class="t" style="left:710.65px;top:192px;font-size:5.5px;line-height:5.5px;color:#ffffff;font-weight:400;transform-origin:0 0;transform:scaleX(0.9686);text-shadow:0.15px 0 0 #ffffff;">13%</div>
<div class="r" style="left:706.30px;top:203.00px;width:49.40px;height:24.00px;background:#1f2837;border:0.7px dotted #2f3949;border-radius:2px"></div>
<div class="t" style="left:710.65px;top:209px;font-size:5.4px;line-height:5.4px;color:#e5e7eb;font-weight:400;transform-origin:0 0;transform:scaleX(1.0554);text-shadow:0.15px 0 0 #e5e7eb;">1528</div>
<div class="t" style="left:710.65px;top:217px;font-size:5.5px;line-height:5.5px;color:#e5e7eb;font-weight:400;transform-origin:0 0;transform:scaleX(0.9686);text-shadow:0.15px 0 0 #e5e7eb;">81%</div>
<div class="r" style="left:706.30px;top:228.15px;width:49.40px;height:24.00px;background:#1f2837;border:0.7px dotted #2f3949;border-radius:2px"></div>
<div class="t" style="left:710.65px;top:234px;font-size:5.4px;line-height:5.4px;color:#e5e7eb;font-weight:400;transform-origin:0 0;transform:scaleX(1.0554);text-shadow:0.15px 0 0 #e5e7eb;">525</div>
<div class="t" style="left:710.65px;top:242px;font-size:5.5px;line-height:5.5px;color:#e5e7eb;font-weight:400;transform-origin:0 0;transform:scaleX(0.9686);text-shadow:0.15px 0 0 #e5e7eb;">36%</div>
<div class="r" style="left:706.30px;top:253.30px;width:49.40px;height:24.00px;background:#1f2837;border:0.7px dotted #2f3949;border-radius:2px"></div>
<div class="t" style="left:710.65px;top:263px;font-size:5.4px;line-height:5.4px;color:#e5e7eb;font-weight:400;transform-origin:0 0;transform:scaleX(1.0554);text-shadow:0.15px 0 0 #e5e7eb;">0</div>
<div class="r" style="left:706.30px;top:278.45px;width:49.40px;height:24.00px;background:#1f2837;border:0.7px dotted #2f3949;border-radius:2px"></div>
<div class="t" style="left:710.65px;top:288px;font-size:5.4px;line-height:5.4px;color:#e5e7eb;font-weight:400;transform-origin:0 0;transform:scaleX(1.0554);text-shadow:0.15px 0 0 #e5e7eb;">0</div>
<div class="r" style="left:706.30px;top:303.60px;width:49.40px;height:24.00px;background:#1f2837;border:0.7px dotted #2f3949;border-radius:2px"></div>
<div class="t" style="left:710.65px;top:313px;font-size:5.4px;line-height:5.4px;color:#e5e7eb;font-weight:400;transform-origin:0 0;transform:scaleX(1.0554);text-shadow:0.15px 0 0 #e5e7eb;">0</div>
<div class="r" style="left:706.30px;top:328.75px;width:49.40px;height:24.00px;background:#1f2837;border:0.7px dotted #2f3949;border-radius:2px"></div>
<div class="t" style="left:710.65px;top:339px;font-size:5.4px;line-height:5.4px;color:#e5e7eb;font-weight:400;transform-origin:0 0;transform:scaleX(1.0554);text-shadow:0.15px 0 0 #e5e7eb;">0</div>
<div class="t" style="left:760.85px;top:136px;font-size:5.65px;line-height:5.65px;color:#f3f4f6;font-weight:400;transform-origin:0 0;transform:scaleX(0.9107);text-shadow:0.3px 0 0 #f3f4f6;">Group #8</div>
<div class="t" style="left:760.85px;top:143px;font-size:5.4px;line-height:5.4px;color:#b3b9c2;font-weight:400;transform-origin:0 0;transform:scaleX(0.9064);text-shadow:0.15px 0 0 #b3b9c2;">Total 8863</div>
<div class="r" style="left:756.50px;top:152.70px;width:49.40px;height:24.00px;background:#8a0099;border-radius:2px"></div>
<div class="t" style="left:760.85px;top:159px;font-size:5.4px;line-height:5.4px;color:#ffffff;font-weight:400;transform-origin:0 0;transform:scaleX(1.0554);text-shadow:0.15px 0 0 #ffffff;">4798</div>
<div class="t" style="left:760.85px;top:167px;font-size:5.5px;line-height:5.5px;color:#ffffff;font-weight:400;transform-origin:0 0;transform:scaleX(0.9686);text-shadow:0.15px 0 0 #ffffff;">83%</div>
<div class="r" style="left:756.50px;top:177.85px;width:49.40px;height:24.00px;background:#1f2837;border:0.7px dotted #2f3949;border-radius:2px"></div>
<div class="t" style="left:760.85px;top:184px;font-size:5.4px;line-height:5.4px;color:#e5e7eb;font-weight:400;transform-origin:0 0;transform:scaleX(1.0554);text-shadow:0.15px 0 0 #e5e7eb;">2589</div>
<div class="t" style="left:760.85px;top:192px;font-size:5.5px;line-height:5.5px;color:#e5e7eb;font-weight:400;transform-origin:0 0;transform:scaleX(0.9686);text-shadow:0.15px 0 0 #e5e7eb;">92%</div>
<div class="r" style="left:756.50px;top:203.00px;width:49.40px;height:24.00px;background:#1f2837;border:0.7px dotted #2f3949;border-radius:2px"></div>
<div class="t" style="left:760.85px;top:209px;font-size:5.4px;line-height:5.4px;color:#e5e7eb;font-weight:400;transform-origin:0 0;transform:scaleX(1.0554);text-shadow:0.15px 0 0 #e5e7eb;">1240</div>
<div class="t" style="left:760.85px;top:217px;font-size:5.5px;line-height:5.5px;color:#e5e7eb;font-weight:400;transform-origin:0 0;transform:scaleX(0.9686);text-shadow:0.15px 0 0 #e5e7eb;">79%</div>
<div class="r" style="left:756.50px;top:228.15px;width:49.40px;height:24.00px;background:#1f2837;border:0.7px dotted #2f3949;border-radius:2px"></div>
<div class="t" style="left:760.85px;top:234px;font-size:5.4px;line-height:5.4px;color:#e5e7eb;font-weight:400;transform-origin:0 0;transform:scaleX(1.0554);text-shadow:0.15px 0 0 #e5e7eb;">236</div>
<div class="t" style="left:760.85px;top:242px;font-size:5.5px;line-height:5.5px;color:#e5e7eb;font-weight:400;transform-origin:0 0;transform:scaleX(0.9686);text-shadow:0.15px 0 0 #e5e7eb;">21%</div>
<div class="r" style="left:756.50px;top:253.30px;width:49.40px;height:24.00px;background:#1f2837;border:0.7px dotted #2f3949;border-radius:2px"></div>
<div class="t" style="left:760.85px;top:263px;font-size:5.4px;line-height:5.4px;color:#e5e7eb;font-weight:400;transform-origin:0 0;transform:scaleX(1.0554);text-shadow:0.15px 0 0 #e5e7eb;">0</div>
<div class="r" style="left:756.50px;top:278.45px;width:49.40px;height:24.00px;background:#1f2837;border:0.7px dotted #2f3949;border-radius:2px"></div>
<div class="t" style="left:760.85px;top:288px;font-size:5.4px;line-height:5.4px;color:#e5e7eb;font-weight:400;transform-origin:0 0;transform:scaleX(1.0554);text-shadow:0.15px 0 0 #e5e7eb;">0</div>
<div class="r" style="left:756.50px;top:303.60px;width:49.40px;height:24.00px;background:#1f2837;border:0.7px dotted #2f3949;border-radius:2px"></div>
<div class="t" style="left:760.85px;top:313px;font-size:5.4px;line-height:5.4px;color:#e5e7eb;font-weight:400;transform-origin:0 0;transform:scaleX(1.0554);text-shadow:0.15px 0 0 #e5e7eb;">0</div>
<div class="r" style="left:756.50px;top:328.75px;width:49.40px;height:24.00px;background:#1f2837;border:0.7px dotted #2f3949;border-radius:2px"></div>
<div class="t" style="left:760.85px;top:339px;font-size:5.4px;line-height:5.4px;color:#e5e7eb;font-weight:400;transform-origin:0 0;transform:scaleX(1.0554);text-shadow:0.15px 0 0 #e5e7eb;">0</div>
<div class="t" style="left:811.15px;top:136px;font-size:5.65px;line-height:5.65px;color:#f3f4f6;font-weight:400;transform-origin:0 0;transform:scaleX(0.9107);text-shadow:0.3px 0 0 #f3f4f6;">Group #9</div>
<div class="t" style="left:811.15px;top:143px;font-size:5.4px;line-height:5.4px;color:#b3b9c2;font-weight:400;transform-origin:0 0;transform:scaleX(0.9064);text-shadow:0.15px 0 0 #b3b9c2;">Total 7120</div>
<div class="r" style="left:806.80px;top:152.70px;width:49.40px;height:24.00px;background:#1f2837;border:0.7px dotted #2f3949;border-radius:2px"></div>
<div class="t" style="left:811.15px;top:159px;font-size:5.4px;line-height:5.4px;color:#e5e7eb;font-weight:400;transform-origin:0 0;transform:scaleX(1.0554);text-shadow:0.15px 0 0 #e5e7eb;">4512</div>
<div class="t" style="left:811.15px;top:167px;font-size:5.5px;line-height:5.5px;color:#e5e7eb;font-weight:400;transform-origin:0 0;transform:scaleX(0.9686);text-shadow:0.15px 0 0 #e5e7eb;">64%</div>
<div class="r" style="left:806.80px;top:177.85px;width:49.40px;height:24.00px;background:#1f2837;border:0.7px dotted #2f3949;border-radius:2px"></div>
<div class="t" style="left:811.15px;top:188px;font-size:5.4px;line-height:5.4px;color:#e5e7eb;font-weight:400;transform-origin:0 0;transform:scaleX(1.0554);text-shadow:0.15px 0 0 #e5e7eb;">0</div>
<div class="r" style="left:806.80px;top:203.00px;width:49.40px;height:24.00px;background:#1f2837;border:0.7px dotted #2f3949;border-radius:2px"></div>
<div class="t" style="left:811.15px;top:213px;font-size:5.4px;line-height:5.4px;color:#e5e7eb;font-weight:400;transform-origin:0 0;transform:scaleX(1.0554);text-shadow:0.15px 0 0 #e5e7eb;">0</div>
<div class="r" style="left:806.80px;top:228.15px;width:49.40px;height:24.00px;background:#1f2837;border:0.7px dotted #2f3949;border-radius:2px"></div>
<div class="t" style="left:811.15px;top:238px;font-size:5.4px;line-height:5.4px;color:#e5e7eb;font-weight:400;transform-origin:0 0;transform:scaleX(1.0554);text-shadow:0.15px 0 0 #e5e7eb;">0</div>
<div class="r" style="left:806.80px;top:253.30px;width:49.40px;height:24.00px;background:#1f2837;border:0.7px dotted #2f3949;border-radius:2px"></div>
<div class="t" style="left:811.15px;top:263px;font-size:5.4px;line-height:5.4px;color:#e5e7eb;font-weight:400;transform-origin:0 0;transform:scaleX(1.0554);text-shadow:0.15px 0 0 #e5e7eb;">0</div>
<div class="r" style="left:806.80px;top:278.45px;width:49.40px;height:24.00px;background:#1f2837;border:0.7px dotted #2f3949;border-radius:2px"></div>
<div class="t" style="left:811.15px;top:288px;font-size:5.4px;line-height:5.4px;color:#e5e7eb;font-weight:400;transform-origin:0 0;transform:scaleX(1.0554);text-shadow:0.15px 0 0 #e5e7eb;">0</div>
<div class="r" style="left:806.80px;top:303.60px;width:49.40px;height:24.00px;background:#1f2837;border:0.7px dotted #2f3949;border-radius:2px"></div>
<div class="t" style="left:811.15px;top:313px;font-size:5.4px;line-height:5.4px;color:#e5e7eb;font-weight:400;transform-origin:0 0;transform:scaleX(1.0554);text-shadow:0.15px 0 0 #e5e7eb;">0</div>
<div class="r" style="left:806.80px;top:328.75px;width:49.40px;height:24.00px;background:#1f2837;border:0.7px dotted #2f3949;border-radius:2px"></div>
<div class="t" style="left:811.15px;top:339px;font-size:5.4px;line-height:5.4px;color:#e5e7eb;font-weight:400;transform-origin:0 0;transform:scaleX(1.0554);text-shadow:0.15px 0 0 #e5e7eb;">0</div>
<div class="t" style="left:297.95px;top:383px;font-size:7.7px;line-height:7.7px;color:#f3f4f6;font-weight:400;transform-origin:0 0;transform:scaleX(1.0110);text-shadow:0.3px 0 0 #f3f4f6;">Important information</div>
<div class="r" style="left:297.40px;top:400.60px;width:373.00px;height:179.40px;border:0.9px solid #1d2432;border-radius:3px"></div>
<div class="r" style="left:297.40px;top:419.80px;width:373.00px;height:0.90px;background:#1d2432"></div>
<div class="t" style="left:306.95px;top:408px;font-size:6.1px;line-height:6.1px;color:#f3f4f6;font-weight:400;transform-origin:0 0;transform:scaleX(1.0100);text-shadow:0.3px 0 0 #f3f4f6;">Important metrics</div>
<div class="t" style="left:307.15px;top:431px;font-size:6.25px;line-height:6.25px;color:#cdd1d8;font-weight:400;transform-origin:0 0;transform:scaleX(0.8760);text-shadow:0.15px 0 0 #cdd1d8;">Total users</div>
<div class="t" style="left:307.15px;top:440px;font-size:9.3px;line-height:9.3px;color:#f3f4f6;font-weight:400;transform-origin:0 0;transform:scaleX(0.9976);text-shadow:0.3px 0 0 #f3f4f6;"><span style="margin:0 -0.8px">1</span>2,847</div>
<svg class="abs" style="left:338.69px;top:440.70px" width="7" height="7" viewBox="0 0 7 7"><circle cx="3.3" cy="3.3" r="2.8" fill="none" stroke="#22c55e" stroke-width="0.9"/><circle cx="3.3" cy="3.3" r="1.0" fill="#22c55e"/></svg>
<div class="t" style="left:346.54px;top:442px;font-size:5.95px;line-height:5.95px;color:#22c55e;font-weight:400;transform-origin:0 0;transform:scaleX(0.8757);text-shadow:0.3px 0 0 #22c55e;">15%</div>
<div class="t" style="left:307.15px;top:460px;font-size:6.25px;line-height:6.25px;color:#cdd1d8;font-weight:400;transform-origin:0 0;transform:scaleX(0.8760);text-shadow:0.15px 0 0 #cdd1d8;">Monthly revenue</div>
<div class="t" style="left:307.15px;top:469px;font-size:9.3px;line-height:9.3px;color:#f3f4f6;font-weight:400;transform-origin:0 0;transform:scaleX(0.9976);text-shadow:0.3px 0 0 #f3f4f6;">89,567</div>
<svg class="abs" style="left:340.29px;top:469.80px" width="7" height="7" viewBox="0 0 7 7"><circle cx="3.3" cy="3.3" r="2.8" fill="none" stroke="#22c55e" stroke-width="0.9"/><circle cx="3.3" cy="3.3" r="1.0" fill="#22c55e"/></svg>
<div class="t" style="left:348.14px;top:471px;font-size:5.95px;line-height:5.95px;color:#22c55e;font-weight:400;transform-origin:0 0;transform:scaleX(0.8757);text-shadow:0.3px 0 0 #22c55e;">12%</div>
<div class="t" style="left:307.15px;top:489px;font-size:6.25px;line-height:6.25px;color:#cdd1d8;font-weight:400;transform-origin:0 0;transform:scaleX(0.8760);text-shadow:0.15px 0 0 #cdd1d8;">Page views</div>
<div class="t" style="left:307.15px;top:498px;font-size:9.3px;line-height:9.3px;color:#f3f4f6;font-weight:400;transform-origin:0 0;transform:scaleX(0.9976);text-shadow:0.3px 0 0 #f3f4f6;"><span style="margin:0 -0.8px">1</span>56,789</div>
<svg class="abs" style="left:343.80px;top:498.90px" width="7" height="7" viewBox="0 0 7 7"><circle cx="3.3" cy="3.3" r="2.8" fill="none" stroke="#22c55e" stroke-width="0.9"/><circle cx="3.3" cy="3.3" r="1.0" fill="#22c55e"/></svg>
<div class="t" style="left:351.65px;top:500px;font-size:5.95px;line-height:5.95px;color:#22c55e;font-weight:400;transform-origin:0 0;transform:scaleX(0.8757);text-shadow:0.3px 0 0 #22c55e;">18%</div>
<div class="t" style="left:307.15px;top:518px;font-size:6.25px;line-height:6.25px;color:#cdd1d8;font-weight:400;transform-origin:0 0;transform:scaleX(0.8760);text-shadow:0.15px 0 0 #cdd1d8;">Email opens</div>
<div class="t" style="left:307.15px;top:527px;font-size:9.3px;line-height:9.3px;color:#f3f4f6;font-weight:400;transform-origin:0 0;transform:scaleX(0.9976);text-shadow:0.3px 0 0 #f3f4f6;">23,456</div>
<svg class="abs" style="left:340.29px;top:528.00px" width="7" height="7" viewBox="0 0 7 7"><circle cx="3.3" cy="3.3" r="2.8" fill="none" stroke="#22c55e" stroke-width="0.9"/><circle cx="3.3" cy="3.3" r="1.0" fill="#22c55e"/></svg>
<div class="t" style="left:348.14px;top:529px;font-size:5.95px;line-height:5.95px;color:#22c55e;font-weight:400;transform-origin:0 0;transform:scaleX(0.8757);text-shadow:0.3px 0 0 #22c55e;">9%</div>
<div class="t" style="left:397.95px;top:431px;font-size:6.25px;line-height:6.25px;color:#cdd1d8;font-weight:400;transform-origin:0 0;transform:scaleX(0.8760);text-shadow:0.15px 0 0 #cdd1d8;">Active users</div>
<div class="t" style="left:397.95px;top:440px;font-size:9.3px;line-height:9.3px;color:#f3f4f6;font-weight:400;transform-origin:0 0;transform:scaleX(0.9976);text-shadow:0.3px 0 0 #f3f4f6;">8,932</div>
<svg class="abs" style="left:425.89px;top:440.70px" width="7" height="7" viewBox="0 0 7 7"><circle cx="3.3" cy="3.3" r="2.8" fill="none" stroke="#22c55e" stroke-width="0.9"/><circle cx="3.3" cy="3.3" r="1.0" fill="#22c55e"/></svg>
<div class="t" style="left:433.74px;top:442px;font-size:5.95px;line-height:5.95px;color:#22c55e;font-weight:400;transform-origin:0 0;transform:scaleX(0.8757);text-shadow:0.3px 0 0 #22c55e;">8%</div>
<div class="t" style="left:397.95px;top:460px;font-size:6.25px;line-height:6.25px;color:#cdd1d8;font-weight:400;transform-origin:0 0;transform:scaleX(0.8760);text-shadow:0.15px 0 0 #cdd1d8;">Conversion rate</div>
<div class="t" style="left:397.95px;top:469px;font-size:9.3px;line-height:9.3px;color:#f3f4f6;font-weight:400;transform-origin:0 0;transform:scaleX(0.9976);text-shadow:0.3px 0 0 #f3f4f6;">3.4</div>
<svg class="abs" style="left:415.60px;top:469.80px" width="7" height="7" viewBox="0 0 7 7"><circle cx="3.3" cy="3.3" r="2.8" fill="none" stroke="#a3a9b3" stroke-width="0.9"/><circle cx="3.3" cy="3.3" r="1.0" fill="#a3a9b3"/></svg>
<div class="t" style="left:423.45px;top:471px;font-size:5.95px;line-height:5.95px;color:#a3a9b3;font-weight:400;transform-origin:0 0;transform:scaleX(0.8757);text-shadow:0.3px 0 0 #a3a9b3;">0%</div>
<div class="t" style="left:397.95px;top:489px;font-size:6.25px;line-height:6.25px;color:#cdd1d8;font-weight:400;transform-origin:0 0;transform:scaleX(0.8760);text-shadow:0.15px 0 0 #cdd1d8;">Support tickets</div>
<div class="t" style="left:397.95px;top:498px;font-size:9.3px;line-height:9.3px;color:#f3f4f6;font-weight:400;transform-origin:0 0;transform:scaleX(0.9976);text-shadow:0.3px 0 0 #f3f4f6;">89</div>
<svg class="abs" style="left:413.00px;top:498.90px" width="7" height="7" viewBox="0 0 7 7"><circle cx="3.3" cy="3.3" r="2.8" fill="none" stroke="#ef4444" stroke-width="0.9"/><circle cx="3.3" cy="3.3" r="1.0" fill="#ef4444"/></svg>
<div class="t" style="left:420.85px;top:500px;font-size:5.95px;line-height:5.95px;color:#ef4444;font-weight:400;transform-origin:0 0;transform:scaleX(0.8757);text-shadow:0.3px 0 0 #ef4444;">12%</div>
<div class="t" style="left:397.95px;top:518px;font-size:6.25px;line-height:6.25px;color:#cdd1d8;font-weight:400;transform-origin:0 0;transform:scaleX(0.8760);text-shadow:0.15px 0 0 #cdd1d8;">Social shares</div>
<div class="t" style="left:397.95px;top:527px;font-size:9.3px;line-height:9.3px;color:#f3f4f6;font-weight:400;transform-origin:0 0;transform:scaleX(0.9976);text-shadow:0.3px 0 0 #f3f4f6;"><span style="margin:0 -0.8px">1</span>,234</div>
<svg class="abs" style="left:424.30px;top:528.00px" width="7" height="7" viewBox="0 0 7 7"><circle cx="3.3" cy="3.3" r="2.8" fill="none" stroke="#22c55e" stroke-width="0.9"/><circle cx="3.3" cy="3.3" r="1.0" fill="#22c55e"/></svg>
<div class="t" style="left:432.15px;top:529px;font-size:5.95px;line-height:5.95px;color:#22c55e;font-weight:400;transform-origin:0 0;transform:scaleX(0.8757);text-shadow:0.3px 0 0 #22c55e;">14%</div>
<div class="t" style="left:488.55px;top:431px;font-size:6.25px;line-height:6.25px;color:#cdd1d8;font-weight:400;transform-origin:0 0;transform:scaleX(0.8760);text-shadow:0.15px 0 0 #cdd1d8;">New signups</div>
<div class="t" style="left:488.55px;top:440px;font-size:9.3px;line-height:9.3px;color:#f3f4f6;font-weight:400;transform-origin:0 0;transform:scaleX(0.9976);text-shadow:0.3px 0 0 #f3f4f6;"><span style="margin:0 -0.8px">1</span>,456</div>
<svg class="abs" style="left:514.90px;top:440.70px" width="7" height="7" viewBox="0 0 7 7"><circle cx="3.3" cy="3.3" r="2.8" fill="none" stroke="#22c55e" stroke-width="0.9"/><circle cx="3.3" cy="3.3" r="1.0" fill="#22c55e"/></svg>
<div class="t" style="left:522.75px;top:442px;font-size:5.95px;line-height:5.95px;color:#22c55e;font-weight:400;transform-origin:0 0;transform:scaleX(0.8757);text-shadow:0.3px 0 0 #22c55e;">23%</div>
<div class="t" style="left:488.55px;top:460px;font-size:6.25px;line-height:6.25px;color:#cdd1d8;font-weight:400;transform-origin:0 0;transform:scaleX(0.8760);text-shadow:0.15px 0 0 #cdd1d8;">Avg session time</div>
<div class="t" style="left:488.55px;top:469px;font-size:9.3px;line-height:9.3px;color:#f3f4f6;font-weight:400;transform-origin:0 0;transform:scaleX(0.9976);text-shadow:0.3px 0 0 #f3f4f6;">247</div>
<svg class="abs" style="left:508.79px;top:469.80px" width="7" height="7" viewBox="0 0 7 7"><circle cx="3.3" cy="3.3" r="2.8" fill="none" stroke="#22c55e" stroke-width="0.9"/><circle cx="3.3" cy="3.3" r="1.0" fill="#22c55e"/></svg>
<div class="t" style="left:516.64px;top:471px;font-size:5.95px;line-height:5.95px;color:#22c55e;font-weight:400;transform-origin:0 0;transform:scaleX(0.8757);text-shadow:0.3px 0 0 #22c55e;">7%</div>
<div class="t" style="left:488.55px;top:489px;font-size:6.25px;line-height:6.25px;color:#cdd1d8;font-weight:400;transform-origin:0 0;transform:scaleX(0.8760);text-shadow:0.15px 0 0 #cdd1d8;">Customer satisfaction</div>
<div class="t" style="left:488.55px;top:498px;font-size:9.3px;line-height:9.3px;color:#f3f4f6;font-weight:400;transform-origin:0 0;transform:scaleX(0.9976);text-shadow:0.3px 0 0 #f3f4f6;">4.7</div>
<svg class="abs" style="left:506.20px;top:498.90px" width="7" height="7" viewBox="0 0 7 7"><circle cx="3.3" cy="3.3" r="2.8" fill="none" stroke="#22c55e" stroke-width="0.9"/><circle cx="3.3" cy="3.3" r="1.0" fill="#22c55e"/></svg>
<div class="t" style="left:514.05px;top:500px;font-size:5.95px;line-height:5.95px;color:#22c55e;font-weight:400;transform-origin:0 0;transform:scaleX(0.8757);text-shadow:0.3px 0 0 #22c55e;">2%</div>
<div class="t" style="left:488.55px;top:518px;font-size:6.25px;line-height:6.25px;color:#cdd1d8;font-weight:400;transform-origin:0 0;transform:scaleX(0.8760);text-shadow:0.15px 0 0 #cdd1d8;">API calls</div>
<div class="t" style="left:488.55px;top:527px;font-size:9.3px;line-height:9.3px;color:#f3f4f6;font-weight:400;transform-origin:0 0;transform:scaleX(0.9976);text-shadow:0.3px 0 0 #f3f4f6;">456,789</div>
<svg class="abs" style="left:526.79px;top:528.00px" width="7" height="7" viewBox="0 0 7 7"><circle cx="3.3" cy="3.3" r="2.8" fill="none" stroke="#22c55e" stroke-width="0.9"/><circle cx="3.3" cy="3.3" r="1.0" fill="#22c55e"/></svg>
<div class="t" style="left:534.64px;top:529px;font-size:5.95px;line-height:5.95px;color:#22c55e;font-weight:400;transform-origin:0 0;transform:scaleX(0.8757);text-shadow:0.3px 0 0 #22c55e;">6%</div>
<div class="t" style="left:579.95px;top:431px;font-size:6.25px;line-height:6.25px;color:#cdd1d8;font-weight:400;transform-origin:0 0;transform:scaleX(0.8760);text-shadow:0.15px 0 0 #cdd1d8;">Churn rate</div>
<div class="t" style="left:579.95px;top:440px;font-size:9.3px;line-height:9.3px;color:#f3f4f6;font-weight:400;transform-origin:0 0;transform:scaleX(0.9976);text-shadow:0.3px 0 0 #f3f4f6;">234</div>
<svg class="abs" style="left:600.19px;top:440.70px" width="7" height="7" viewBox="0 0 7 7"><circle cx="3.3" cy="3.3" r="2.8" fill="none" stroke="#ef4444" stroke-width="0.9"/><circle cx="3.3" cy="3.3" r="1.0" fill="#ef4444"/></svg>
<div class="t" style="left:608.04px;top:442px;font-size:5.95px;line-height:5.95px;color:#ef4444;font-weight:400;transform-origin:0 0;transform:scaleX(0.8757);text-shadow:0.3px 0 0 #ef4444;">5%</div>
<div class="t" style="left:579.95px;top:460px;font-size:6.25px;line-height:6.25px;color:#cdd1d8;font-weight:400;transform-origin:0 0;transform:scaleX(0.8760);text-shadow:0.15px 0 0 #cdd1d8;">Bounce rate</div>
<div class="t" style="left:579.95px;top:469px;font-size:9.3px;line-height:9.3px;color:#f3f4f6;font-weight:400;transform-origin:0 0;transform:scaleX(0.9976);text-shadow:0.3px 0 0 #f3f4f6;">42.8</div>
<svg class="abs" style="left:602.79px;top:469.80px" width="7" height="7" viewBox="0 0 7 7"><circle cx="3.3" cy="3.3" r="2.8" fill="none" stroke="#ef4444" stroke-width="0.9"/><circle cx="3.3" cy="3.3" r="1.0" fill="#ef4444"/></svg>
<div class="t" style="left:610.64px;top:471px;font-size:5.95px;line-height:5.95px;color:#ef4444;font-weight:400;transform-origin:0 0;transform:scaleX(0.8757);text-shadow:0.3px 0 0 #ef4444;">3%</div>
<div class="t" style="left:579.95px;top:489px;font-size:6.25px;line-height:6.25px;color:#cdd1d8;font-weight:400;transform-origin:0 0;transform:scaleX(0.8760);text-shadow:0.15px 0 0 #cdd1d8;">Mobile users</div>
<div class="t" style="left:579.95px;top:498px;font-size:9.3px;line-height:9.3px;color:#f3f4f6;font-weight:400;transform-origin:0 0;transform:scaleX(0.9976);text-shadow:0.3px 0 0 #f3f4f6;">7,834</div>
<svg class="abs" style="left:607.89px;top:498.90px" width="7" height="7" viewBox="0 0 7 7"><circle cx="3.3" cy="3.3" r="2.8" fill="none" stroke="#22c55e" stroke-width="0.9"/><circle cx="3.3" cy="3.3" r="1.0" fill="#22c55e"/></svg>
<div class="t" style="left:615.74px;top:500px;font-size:5.95px;line-height:5.95px;color:#22c55e;font-weight:400;transform-origin:0 0;transform:scaleX(0.8757);text-shadow:0.3px 0 0 #22c55e;">25%</div>
<div class="t" style="left:579.95px;top:518px;font-size:6.25px;line-height:6.25px;color:#cdd1d8;font-weight:400;transform-origin:0 0;transform:scaleX(0.8760);text-shadow:0.15px 0 0 #cdd1d8;">Server uptime</div>
<div class="t" style="left:579.95px;top:527px;font-size:9.3px;line-height:9.3px;color:#f3f4f6;font-weight:400;transform-origin:0 0;transform:scaleX(0.9976);text-shadow:0.3px 0 0 #f3f4f6;">99.9</div>
<svg class="abs" style="left:602.79px;top:528.00px" width="7" height="7" viewBox="0 0 7 7"><circle cx="3.3" cy="3.3" r="2.8" fill="none" stroke="#a3a9b3" stroke-width="0.9"/><circle cx="3.3" cy="3.3" r="1.0" fill="#a3a9b3"/></svg>
<div class="t" style="left:610.64px;top:529px;font-size:5.95px;line-height:5.95px;color:#a3a9b3;font-weight:400;transform-origin:0 0;transform:scaleX(0.8757);text-shadow:0.3px 0 0 #a3a9b3;">0%</div>
</div>
<div id="light" class="inner">
<div class="r" style="left:174.00px;top:67.90px;width:710.00px;height:1.00px;background:#eff1f3"></div>
<div class="r" style="left:827.30px;top:52.40px;width:32.80px;height:8.50px;background:#fae8ff;border-radius:2px"></div>
<div class="t" style="left:829.95px;top:56px;font-size:4.65px;line-height:4.65px;color:#a21caf;font-weight:700;transform-origin:0 0;transform:scaleX(0.8766);">PRODUCTION</div>
<div class="t" style="left:298.15px;top:94px;font-size:5.65px;line-height:5.65px;color:#8a919c;font-weight:400;transform-origin:0 0;transform:scaleX(0.9780);text-shadow:0.15px 0 0 #8a919c;">Monitor user behavior over time and identify retention patterns to optimize customer lifecycle management</div>
<div class="r" style="left:297.60px;top:110.90px;width:568.90px;height:0.90px;background:#eff1f3"></div>
<div class="r" style="left:297.50px;top:124.30px;width:569.00px;height:238.90px;border:0.9px solid #eff1f3;border-radius:3px"></div>
<div class="t" style="left:307.75px;top:159px;font-size:6.25px;line-height:6.25px;color:#111827;font-weight:400;transform-origin:0 0;transform:scaleX(0.8772);text-shadow:0.3px 0 0 #111827;">December 18, 2025</div>
<div class="t" style="left:307.75px;top:168px;font-size:4.8px;line-height:4.8px;color:#6b7280;font-weight:400;transform-origin:0 0;transform:scaleX(0.9719);">Total 41470</div>
<div class="t" style="left:307.75px;top:184px;font-size:6.25px;line-height:6.25px;color:#111827;font-weight:400;transform-origin:0 0;transform:scaleX(0.8772);text-shadow:0.3px 0 0 #111827;">December 19, 2025</div>
<div class="t" style="left:307.75px;top:193px;font-size:4.8px;line-height:4.8px;color:#6b7280;font-weight:400;transform-origin:0 0;transform:scaleX(0.9719);">Total 32372</div>
<div class="t" style="left:307.75px;top:209px;font-size:6.25px;line-height:6.25px;color:#111827;font-weight:400;transform-origin:0 0;transform:scaleX(0.8772);text-shadow:0.3px 0 0 #111827;">December 20, 2025</div>
<div class="t" style="left:307.75px;top:218px;font-size:4.8px;line-height:4.8px;color:#6b7280;font-weight:400;transform-origin:0 0;transform:scaleX(0.9719);">Total 24983</div>
<div class="t" style="left:307.75px;top:234px;font-size:6.25px;line-height:6.25px;color:#111827;font-weight:400;transform-origin:0 0;transform:scaleX(0.8772);text-shadow:0.3px 0 0 #111827;">December 21, 2025</div>
<div class="t" style="left:307.75px;top:243px;font-size:4.8px;line-height:4.8px;color:#6b7280;font-weight:400;transform-origin:0 0;transform:scaleX(0.9719);">Total 17119</div>
<div class="t" style="left:307.75px;top:259px;font-size:6.25px;line-height:6.25px;color:#111827;font-weight:400;transform-origin:0 0;transform:scaleX(0.8772);text-shadow:0.3px 0 0 #111827;">December 22, 2025</div>
<div class="t" style="left:307.75px;top:268px;font-size:4.8px;line-height:4.8px;color:#6b7280;font-weight:400;transform-origin:0 0;transform:scaleX(0.9719);">Total 13474</div>
<div class="t" style="left:307.75px;top:284px;font-size:6.25px;line-height:6.25px;color:#111827;font-weight:400;transform-origin:0 0;transform:scaleX(0.8772);text-shadow:0.3px 0 0 #111827;">December 23, 2025</div>
<div class="t" style="left:307.75px;top:293px;font-size:4.8px;line-height:4.8px;color:#6b7280;font-weight:400;transform-origin:0 0;transform:scaleX(0.9719);">Total 11328</div>
<div class="t" style="left:307.75px;top:310px;font-size:6.25px;line-height:6.25px;color:#111827;font-weight:400;transform-origin:0 0;transform:scaleX(0.8772);text-shadow:0.3px 0 0 #111827;">December 24, 2025</div>
<div class="t" style="left:307.75px;top:318px;font-size:4.8px;line-height:4.8px;color:#6b7280;font-weight:400;transform-origin:0 0;transform:scaleX(0.9719);">Total 10107</div>
<div class="t" style="left:307.75px;top:335px;font-size:6.25px;line-height:6.25px;color:#111827;font-weight:400;transform-origin:0 0;transform:scaleX(0.8772);text-shadow:0.3px 0 0 #111827;">December 25, 2025</div>
<div class="t" style="left:307.75px;top:344px;font-size:4.8px;line-height:4.8px;color:#6b7280;font-weight:400;transform-origin:0 0;transform:scaleX(0.9719);">Total 9319</div>
<div class="t" style="left:396.25px;top:136px;font-size:5.65px;line-height:5.65px;color:#111827;font-weight:400;transform-origin:0 0;transform:scaleX(0.9107);text-shadow:0.3px 0 0 #111827;">Group #1</div>
<div class="t" style="left:396.25px;top:143px;font-size:5.4px;line-height:5.4px;color:#6b7280;font-weight:400;transform-origin:0 0;transform:scaleX(0.9064);">Total 36465</div>
<div class="r" style="left:391.90px;top:152.70px;width:52.10px;height:24.00px;background:#8a0099;border-radius:2px"></div>
<div class="t" style="left:396.25px;top:159px;font-size:5.4px;line-height:5.4px;color:#ffffff;font-weight:400;transform-origin:0 0;transform:scaleX(1.0554);text-shadow:0.15px 0 0 #ffffff;">4903</div>
<div class="t" style="left:396.25px;top:167px;font-size:5.5px;line-height:5.5px;color:#ffffff;font-weight:400;transform-origin:0 0;transform:scaleX(0.9686);text-shadow:0.15px 0 0 #ffffff;">90%</div>
<div class="r" style="left:391.90px;top:177.85px;width:52.10px;height:24.00px;background:#aa00bb;border-radius:2px"></div>
<div class="t" style="left:396.25px;top:184px;font-size:5.4px;line-height:5.4px;color:#ffffff;font-weight:400;transform-origin:0 0;transform:scaleX(1.0554);text-shadow:0.15px 0 0 #ffffff;">4132</div>
<div class="t" style="left:396.25px;top:192px;font-size:5.5px;line-height:5.5px;color:#ffffff;font-weight:400;transform-origin:0 0;transform:scaleX(0.9686);text-shadow:0.15px 0 0 #ffffff;">48%</div>
<div class="r" style="left:391.90px;top:203.00px;width:52.10px;height:24.00px;background:#cc00dd;border-radius:2px"></div>
<div class="t" style="left:396.25px;top:209px;font-size:5.4px;line-height:5.4px;color:#ffffff;font-weight:400;transform-origin:0 0;transform:scaleX(1.0554);text-shadow:0.15px 0 0 #ffffff;">4969</div>
<div class="t" style="left:396.25px;top:217px;font-size:5.5px;line-height:5.5px;color:#ffffff;font-weight:400;transform-origin:0 0;transform:scaleX(0.9686);text-shadow:0.15px 0 0 #ffffff;">80%</div>
<div class="r" style="left:391.90px;top:228.15px;width:52.10px;height:24.00px;background:#e535f5;border-radius:2px"></div>
<div class="t" style="left:396.25px;top:234px;font-size:5.4px;line-height:5.4px;color:#ffffff;font-weight:400;transform-origin:0 0;transform:scaleX(1.0554);text-shadow:0.15px 0 0 #ffffff;">4348</div>
<div class="t" style="left:396.25px;top:242px;font-size:5.5px;line-height:5.5px;color:#ffffff;font-weight:400;transform-origin:0 0;transform:scaleX(0.9686);text-shadow:0.15px 0 0 #ffffff;">41%</div>
<div class="r" style="left:391.90px;top:253.30px;width:52.10px;height:24.00px;background:#ec6ff8;border-radius:2px"></div>
<div class="t" style="left:396.25px;top:259px;font-size:5.4px;line-height:5.4px;color:#ffffff;font-weight:400;transform-origin:0 0;transform:scaleX(1.0554);text-shadow:0.15px 0 0 #ffffff;">4690</div>
<div class="t" style="left:396.25px;top:267px;font-size:5.5px;line-height:5.5px;color:#ffffff;font-weight:400;transform-origin:0 0;transform:scaleX(0.9686);text-shadow:0.15px 0 0 #ffffff;">14%</div>
<div class="r" style="left:391.90px;top:278.45px;width:52.10px;height:24.00px;background:#f2a9f9;border-radius:2px"></div>
<div class="t" style="left:396.25px;top:284px;font-size:5.4px;line-height:5.4px;color:#374151;font-weight:400;transform-origin:0 0;transform:scaleX(1.0554);">4062</div>
<div class="t" style="left:396.25px;top:293px;font-size:5.5px;line-height:5.5px;color:#374151;font-weight:400;transform-origin:0 0;transform:scaleX(0.9686);">89%</div>
<div class="r" style="left:391.90px;top:303.60px;width:52.10px;height:24.00px;background:#f7cdfc;border-radius:2px"></div>
<div class="t" style="left:396.25px;top:310px;font-size:5.4px;line-height:5.4px;color:#374151;font-weight:400;transform-origin:0 0;transform:scaleX(1.0554);">4690</div>
<div class="t" style="left:396.25px;top:318px;font-size:5.5px;line-height:5.5px;color:#374151;font-weight:400;transform-origin:0 0;transform:scaleX(0.9686);">23%</div>
<div class="r" style="left:391.90px;top:328.75px;width:52.10px;height:24.00px;background:#fce7fe;border-radius:2px"></div>
<div class="t" style="left:396.25px;top:335px;font-size:5.4px;line-height:5.4px;color:#374151;font-weight:400;transform-origin:0 0;transform:scaleX(1.0554);">4671</div>
<div class="t" style="left:396.25px;top:343px;font-size:5.5px;line-height:5.5px;color:#374151;font-weight:400;transform-origin:0 0;transform:scaleX(0.9686);">80%</div>
<div class="t" style="left:449.65px;top:136px;font-size:5.65px;line-height:5.65px;color:#111827;font-weight:400;transform-origin:0 0;transform:scaleX(0.9107);text-shadow:0.3px 0 0 #111827;">Group #2</div>
<div class="t" style="left:449.65px;top:143px;font-size:5.4px;line-height:5.4px;color:#6b7280;font-weight:400;transform-origin:0 0;transform:scaleX(0.9064);">Total 29889</div>
<div class="r" style="left:445.30px;top:152.70px;width:52.10px;height:24.00px;background:#aa00bb;border-radius:2px"></div>
<div class="t" style="left:449.65px;top:159px;font-size:5.4px;line-height:5.4px;color:#ffffff;font-weight:400;transform-origin:0 0;transform:scaleX(1.0554);text-shadow:0.15px 0 0 #ffffff;">4933</div>
<div class="t" style="left:449.65px;top:167px;font-size:5.5px;line-height:5.5px;color:#ffffff;font-weight:400;transform-origin:0 0;transform:scaleX(0.9686);text-shadow:0.15px 0 0 #ffffff;">26%</div>
<div class="r" style="left:445.30px;top:177.85px;width:52.10px;height:24.00px;background:#cc00dd;border-radius:2px"></div>
<div class="t" style="left:449.65px;top:184px;font-size:5.4px;line-height:5.4px;color:#ffffff;font-weight:400;transform-origin:0 0;transform:scaleX(1.0554);text-shadow:0.15px 0 0 #ffffff;">4243</div>
<div class="t" style="left:449.65px;top:192px;font-size:5.5px;line-height:5.5px;color:#ffffff;font-weight:400;transform-origin:0 0;transform:scaleX(0.9686);text-shadow:0.15px 0 0 #ffffff;">39%</div>
<div class="r" style="left:445.30px;top:203.00px;width:52.10px;height:24.00px;background:#e535f5;border-radius:2px"></div>
<div class="t" style="left:449.65px;top:209px;font-size:5.4px;line-height:5.4px;color:#ffffff;font-weight:400;transform-origin:0 0;transform:scaleX(1.0554);text-shadow:0.15px 0 0 #ffffff;">4242</div>
<div class="t" style="left:449.65px;top:217px;font-size:5.5px;line-height:5.5px;color:#ffffff;font-weight:400;transform-origin:0 0;transform:scaleX(0.9686);text-shadow:0.15px 0 0 #ffffff;">66%</div>
<div class="r" style="left:445.30px;top:228.15px;width:52.10px;height:24.00px;background:#ec6ff8;border-radius:2px"></div>
<div class="t" style="left:449.65px;top:234px;font-size:5.4px;line-height:5.4px;color:#ffffff;font-weight:400;transform-origin:0 0;transform:scaleX(1.0554);text-shadow:0.15px 0 0 #ffffff;">3493</div>
<div class="t" style="left:449.65px;top:242px;font-size:5.5px;line-height:5.5px;color:#ffffff;font-weight:400;transform-origin:0 0;transform:scaleX(0.9686);text-shadow:0.15px 0 0 #ffffff;">11%</div>
<div class="r" style="left:445.30px;top:253.30px;width:52.10px;height:24.00px;background:#f2a9f9;border-radius:2px"></div>
<div class="t" style="left:449.65px;top:259px;font-size:5.4px;line-height:5.4px;color:#374151;font-weight:400;transform-origin:0 0;transform:scaleX(1.0554);">3294</div>
<div class="t" style="left:449.65px;top:267px;font-size:5.5px;line-height:5.5px;color:#374151;font-weight:400;transform-origin:0 0;transform:scaleX(0.9686);">84%</div>
<div class="r" style="left:445.30px;top:278.45px;width:52.10px;height:24.00px;background:#f7cdfc;border-radius:2px"></div>
<div class="t" style="left:449.65px;top:284px;font-size:5.4px;line-height:5.4px;color:#374151;font-weight:400;transform-origin:0 0;transform:scaleX(1.0554);">3315</div>
<div class="t" style="left:449.65px;top:293px;font-size:5.5px;line-height:5.5px;color:#374151;font-weight:400;transform-origin:0 0;transform:scaleX(0.9686);">93%</div>
<div class="r" style="left:445.30px;top:303.60px;width:52.10px;height:24.00px;background:#fce7fe;border-radius:2px"></div>
<div class="t" style="left:449.65px;top:310px;font-size:5.4px;line-height:5.4px;color:#374151;font-weight:400;transform-origin:0 0;transform:scaleX(1.0554);">3148</div>
<div class="t" style="left:449.65px;top:318px;font-size:5.5px;line-height:5.5px;color:#374151;font-weight:400;transform-origin:0 0;transform:scaleX(0.9686);">35%</div>
<div class="r" style="left:445.30px;top:328.75px;width:52.10px;height:24.00px;background:#f9fafb;border:0.7px dotted #e6e8ec;border-radius:2px"></div>
<div class="t" style="left:449.65px;top:335px;font-size:5.4px;line-height:5.4px;color:#4b5563;font-weight:400;transform-origin:0 0;transform:scaleX(1.0554);">3001</div>
<div class="t" style="left:449.65px;top:343px;font-size:5.5px;line-height:5.5px;color:#4b5563;font-weight:400;transform-origin:0 0;transform:scaleX(0.9686);">89%</div>
<div class="t" style="left:503.15px;top:136px;font-size:5.65px;line-height:5.65px;color:#111827;font-weight:400;transform-origin:0 0;transform:scaleX(0.9107);text-shadow:0.3px 0 0 #111827;">Group #3</div>
<div class="t" style="left:503.15px;top:143px;font-size:5.4px;line-height:5.4px;color:#6b7280;font-weight:400;transform-origin:0 0;transform:scaleX(0.9064);">Total 24997</div>
<div class="r" style="left:498.80px;top:152.70px;width:52.10px;height:24.00px;background:#cc00dd;border-radius:2px"></div>
<div class="t" style="left:503.15px;top:159px;font-size:5.4px;line-height:5.4px;color:#ffffff;font-weight:400;transform-origin:0 0;transform:scaleX(1.0554);text-shadow:0.15px 0 0 #ffffff;">4874</div>
<div class="t" style="left:503.15px;top:167px;font-size:5.5px;line-height:5.5px;color:#ffffff;font-weight:400;transform-origin:0 0;transform:scaleX(0.9686);text-shadow:0.15px 0 0 #ffffff;">75%</div>
<div class="r" style="left:498.80px;top:177.85px;width:52.10px;height:24.00px;background:#e535f5;border-radius:2px"></div>
<div class="t" style="left:503.15px;top:184px;font-size:5.4px;line-height:5.4px;color:#ffffff;font-weight:400;transform-origin:0 0;transform:scaleX(1.0554);text-shadow:0.15px 0 0 #ffffff;">4342</div>
<div class="t" style="left:503.15px;top:192px;font-size:5.5px;line-height:5.5px;color:#ffffff;font-weight:400;transform-origin:0 0;transform:scaleX(0.9686);text-shadow:0.15px 0 0 #ffffff;">21%</div>
<div class="r" style="left:498.80px;top:203.00px;width:52.10px;height:24.00px;background:#ec6ff8;border-radius:2px"></div>
<div class="t" style="left:503.15px;top:209px;font-size:5.4px;line-height:5.4px;color:#ffffff;font-weight:400;transform-origin:0 0;transform:scaleX(1.0554);text-shadow:0.15px 0 0 #ffffff;">4058</div>
<div class="t" style="left:503.15px;top:217px;font-size:5.5px;line-height:5.5px;color:#ffffff;font-weight:400;transform-origin:0 0;transform:scaleX(0.9686);text-shadow:0.15px 0 0 #ffffff;">58%</div>
<div class="r" style="left:498.80px;top:228.15px;width:52.10px;height:24.00px;background:#f2a9f9;border-radius:2px"></div>
<div class="t" style="left:503.15px;top:234px;font-size:5.4px;line-height:5.4px;color:#374151;font-weight:400;transform-origin:0 0;transform:scaleX(1.0554);">2824</div>
<div class="t" style="left:503.15px;top:242px;font-size:5.5px;line-height:5.5px;color:#374151;font-weight:400;transform-origin:0 0;transform:scaleX(0.9686);">85%</div>
<div class="r" style="left:498.80px;top:253.30px;width:52.10px;height:24.00px;background:#f7cdfc;border-radius:2px"></div>
<div class="t" style="left:503.15px;top:259px;font-size:5.4px;line-height:5.4px;color:#374151;font-weight:400;transform-origin:0 0;transform:scaleX(1.0554);">2532</div>
<div class="t" style="left:503.15px;top:267px;font-size:5.5px;line-height:5.5px;color:#374151;font-weight:400;transform-origin:0 0;transform:scaleX(0.9686);">95%</div>
<div class="r" style="left:498.80px;top:278.45px;width:52.10px;height:24.00px;background:#fce7fe;border-radius:2px"></div>
<div class="t" style="left:503.15px;top:284px;font-size:5.4px;line-height:5.4px;color:#374151;font-weight:400;transform-origin:0 0;transform:scaleX(1.0554);">2580</div>
<div class="t" style="left:503.15px;top:293px;font-size:5.5px;line-height:5.5px;color:#374151;font-weight:400;transform-origin:0 0;transform:scaleX(0.9686);">14%</div>
<div class="r" style="left:498.80px;top:303.60px;width:52.10px;height:24.00px;background:#f9fafb;border:0.7px dotted #e6e8ec;border-radius:2px"></div>
<div class="t" style="left:503.15px;top:310px;font-size:5.4px;line-height:5.4px;color:#4b5563;font-weight:400;transform-origin:0 0;transform:scaleX(1.0554);">2160</div>
<div class="t" style="left:503.15px;top:318px;font-size:5.5px;line-height:5.5px;color:#4b5563;font-weight:400;transform-origin:0 0;transform:scaleX(0.9686);">13%</div>
<div class="r" style="left:498.80px;top:328.75px;width:52.10px;height:24.00px;background:#f9fafb;border:0.7px dotted #e6e8ec;border-radius:2px"></div>
<div class="t" style="left:503.15px;top:335px;font-size:5.4px;line-height:5.4px;color:#4b5563;font-weight:400;transform-origin:0 0;transform:scaleX(1.0554);">1647</div>
<div class="t" style="left:503.15px;top:343px;font-size:5.5px;line-height:5.5px;color:#4b5563;font-weight:400;transform-origin:0 0;transform:scaleX(0.9686);">22%</div>
<div class="t" style="left:557.35px;top:136px;font-size:5.65px;line-height:5.65px;color:#111827;font-weight:400;transform-origin:0 0;transform:scaleX(0.9107);text-shadow:0.3px 0 0 #111827;">Group #4</div>
<div class="t" style="left:557.35px;top:143px;font-size:5.4px;line-height:5.4px;color:#6b7280;font-weight:400;transform-origin:0 0;transform:scaleX(0.9064);">Total 16361</div>
<div class="r" style="left:553.00px;top:152.70px;width:49.40px;height:24.00px;background:#e535f5;border-radius:2px"></div>
<div class="t" style="left:557.35px;top:159px;font-size:5.4px;line-height:5.4px;color:#ffffff;font-weight:400;transform-origin:0 0;transform:scaleX(1.0554);text-shadow:0.15px 0 0 #ffffff;">4489</div>
<div class="t" style="left:557.35px;top:167px;font-size:5.5px;line-height:5.5px;color:#ffffff;font-weight:400;transform-origin:0 0;transform:scaleX(0.9686);text-shadow:0.15px 0 0 #ffffff;">91%</div>
<div class="r" style="left:553.00px;top:177.85px;width:49.40px;height:24.00px;background:#ec6ff8;border-radius:2px"></div>
<div class="t" style="left:557.35px;top:184px;font-size:5.4px;line-height:5.4px;color:#ffffff;font-weight:400;transform-origin:0 0;transform:scaleX(1.0554);text-shadow:0.15px 0 0 #ffffff;">4064</div>
<div class="t" style="left:557.35px;top:192px;font-size:5.5px;line-height:5.5px;color:#ffffff;font-weight:400;transform-origin:0 0;transform:scaleX(0.9686);text-shadow:0.15px 0 0 #ffffff;">14%</div>
<div class="r" style="left:553.00px;top:203.00px;width:49.40px;height:24.00px;background:#f2a9f9;border-radius:2px"></div>
<div class="t" style="left:557.35px;top:209px;font-size:5.4px;line-height:5.4px;color:#374151;font-weight:400;transform-origin:0 0;transform:scaleX(1.0554);">3335</div>
<div class="t" style="left:557.35px;top:217px;font-size:5.5px;line-height:5.5px;color:#374151;font-weight:400;transform-origin:0 0;transform:scaleX(0.9686);">15%</div>
<div class="r" style="left:553.00px;top:228.15px;width:49.40px;height:24.00px;background:#f7cdfc;border-radius:2px"></div>
<div class="t" style="left:557.35px;top:234px;font-size:5.4px;line-height:5.4px;color:#374151;font-weight:400;transform-origin:0 0;transform:scaleX(1.0554);">2068</div>
<div class="t" style="left:557.35px;top:242px;font-size:5.5px;line-height:5.5px;color:#374151;font-weight:400;transform-origin:0 0;transform:scaleX(0.9686);">79%</div>
<div class="r" style="left:553.00px;top:253.30px;width:49.40px;height:24.00px;background:#fce7fe;border-radius:2px"></div>
<div class="t" style="left:557.35px;top:259px;font-size:5.4px;line-height:5.4px;color:#374151;font-weight:400;transform-origin:0 0;transform:scaleX(1.0554);">1643</div>
<div class="t" style="left:557.35px;top:267px;font-size:5.5px;line-height:5.5px;color:#374151;font-weight:400;transform-origin:0 0;transform:scaleX(0.9686);">34%</div>
<div class="r" style="left:553.00px;top:278.45px;width:49.40px;height:24.00px;background:#f9fafb;border:0.7px dotted #e6e8ec;border-radius:2px"></div>
<div class="t" style="left:557.35px;top:284px;font-size:5.4px;line-height:5.4px;color:#4b5563;font-weight:400;transform-origin:0 0;transform:scaleX(1.0554);">677</div>
<div class="t" style="left:557.35px;top:293px;font-size:5.5px;line-height:5.5px;color:#4b5563;font-weight:400;transform-origin:0 0;transform:scaleX(0.9686);">46%</div>
<div class="r" style="left:553.00px;top:303.60px;width:49.40px;height:24.00px;background:#f9fafb;border:0.7px dotted #e6e8ec;border-radius:2px"></div>
<div class="t" style="left:557.35px;top:310px;font-size:5.4px;line-height:5.4px;color:#4b5563;font-weight:400;transform-origin:0 0;transform:scaleX(1.0554);">65</div>
<div class="t" style="left:557.35px;top:318px;font-size:5.5px;line-height:5.5px;color:#4b5563;font-weight:400;transform-origin:0 0;transform:scaleX(0.9686);">51%</div>
<div class="r" style="left:553.00px;top:328.75px;width:49.40px;height:24.00px;background:#f9fafb;border:0.7px dotted #e6e8ec;border-radius:2px"></div>
<div class="t" style="left:557.35px;top:339px;font-size:5.4px;line-height:5.4px;color:#4b5563;font-weight:400;transform-origin:0 0;transform:scaleX(1.0554);">0</div>
<div class="t" style="left:608.35px;top:136px;font-size:5.65px;line-height:5.65px;color:#111827;font-weight:400;transform-origin:0 0;transform:scaleX(0.9107);text-shadow:0.3px 0 0 #111827;">Group #5</div>
<div class="t" style="left:608.35px;top:143px;font-size:5.4px;line-height:5.4px;color:#6b7280;font-weight:400;transform-origin:0 0;transform:scaleX(0.9064);">Total 13582</div>
<div class="r" style="left:604.00px;top:152.70px;width:49.40px;height:24.00px;background:#ec6ff8;border-radius:2px"></div>
<div class="t" style="left:608.35px;top:159px;font-size:5.4px;line-height:5.4px;color:#ffffff;font-weight:400;transform-origin:0 0;transform:scaleX(1.0554);text-shadow:0.15px 0 0 #ffffff;">4329</div>
<div class="t" style="left:608.35px;top:167px;font-size:5.5px;line-height:5.5px;color:#ffffff;font-weight:400;transform-origin:0 0;transform:scaleX(0.9686);text-shadow:0.15px 0 0 #ffffff;">91%</div>
<div class="r" style="left:604.00px;top:177.85px;width:49.40px;height:24.00px;background:#f2a9f9;border-radius:2px"></div>
<div class="t" style="left:608.35px;top:184px;font-size:5.4px;line-height:5.4px;color:#374151;font-weight:400;transform-origin:0 0;transform:scaleX(1.0554);">3222</div>
<div class="t" style="left:608.35px;top:192px;font-size:5.5px;line-height:5.5px;color:#374151;font-weight:400;transform-origin:0 0;transform:scaleX(0.9686);">15%</div>
<div class="r" style="left:604.00px;top:203.00px;width:49.40px;height:24.00px;background:#f7cdfc;border-radius:2px"></div>
<div class="t" style="left:608.35px;top:209px;font-size:5.4px;line-height:5.4px;color:#374151;font-weight:400;transform-origin:0 0;transform:scaleX(1.0554);">2886</div>
<div class="t" style="left:608.35px;top:217px;font-size:5.5px;line-height:5.5px;color:#374151;font-weight:400;transform-origin:0 0;transform:scaleX(0.9686);">41%</div>
<div class="r" style="left:604.00px;top:228.15px;width:49.40px;height:24.00px;background:#fce7fe;border-radius:2px"></div>
<div class="t" style="left:608.35px;top:234px;font-size:5.4px;line-height:5.4px;color:#374151;font-weight:400;transform-origin:0 0;transform:scaleX(1.0554);">1426</div>
<div class="t" style="left:608.35px;top:242px;font-size:5.5px;line-height:5.5px;color:#374151;font-weight:400;transform-origin:0 0;transform:scaleX(0.9686);">70%</div>
<div class="r" style="left:604.00px;top:253.30px;width:49.40px;height:24.00px;background:#f9fafb;border:0.7px dotted #e6e8ec;border-radius:2px"></div>
<div class="t" style="left:608.35px;top:259px;font-size:5.4px;line-height:5.4px;color:#4b5563;font-weight:400;transform-origin:0 0;transform:scaleX(1.0554);">1260</div>
<div class="t" style="left:608.35px;top:267px;font-size:5.5px;line-height:5.5px;color:#4b5563;font-weight:400;transform-origin:0 0;transform:scaleX(0.9686);">42%</div>
<div class="r" style="left:604.00px;top:278.45px;width:49.40px;height:24.00px;background:#f9fafb;border:0.7px dotted #e6e8ec;border-radius:2px"></div>
<div class="t" style="left:608.35px;top:284px;font-size:5.4px;line-height:5.4px;color:#4b5563;font-weight:400;transform-origin:0 0;transform:scaleX(1.0554);">459</div>
<div class="t" style="left:608.35px;top:293px;font-size:5.5px;line-height:5.5px;color:#4b5563;font-weight:400;transform-origin:0 0;transform:scaleX(0.9686);">80%</div>
<div class="r" style="left:604.00px;top:303.60px;width:49.40px;height:24.00px;background:#f9fafb;border:0.7px dotted #e6e8ec;border-radius:2px"></div>
<div class="t" style="left:608.35px;top:313px;font-size:5.4px;line-height:5.4px;color:#4b5563;font-weight:400;transform-origin:0 0;transform:scaleX(1.0554);">0</div>
<div class="r" style="left:604.00px;top:328.75px;width:49.40px;height:24.00px;background:#f9fafb;border:0.7px dotted #e6e8ec;border-radius:2px"></div>
<div class="t" style="left:608.35px;top:339px;font-size:5.4px;line-height:5.4px;color:#4b5563;font-weight:400;transform-origin:0 0;transform:scaleX(1.0554);">0</div>
<div class="t" style="left:660.25px;top:136px;font-size:5.65px;line-height:5.65px;color:#111827;font-weight:400;transform-origin:0 0;transform:scaleX(0.9107);text-shadow:0.3px 0 0 #111827;">Group #6</div>
<div class="t" style="left:660.25px;top:143px;font-size:5.4px;line-height:5.4px;color:#6b7280;font-weight:400;transform-origin:0 0;transform:scaleX(0.9064);">Total 11554</div>
<div class="r" style="left:655.90px;top:152.70px;width:49.40px;height:24.00px;background:#f2a9f9;border-radius:2px"></div>
<div class="t" style="left:660.25px;top:159px;font-size:5.4px;line-height:5.4px;color:#374151;font-weight:400;transform-origin:0 0;transform:scaleX(1.0554);">4146</div>
<div class="t" style="left:660.25px;top:167px;font-size:5.5px;line-height:5.5px;color:#374151;font-weight:400;transform-origin:0 0;transform:scaleX(0.9686);">51%</div>
<div class="r" style="left:655.90px;top:177.85px;width:49.40px;height:24.00px;background:#f7cdfc;border-radius:2px"></div>
<div class="t" style="left:660.25px;top:184px;font-size:5.4px;line-height:5.4px;color:#374151;font-weight:400;transform-origin:0 0;transform:scaleX(1.0554);">3735</div>
<div class="t" style="left:660.25px;top:192px;font-size:5.5px;line-height:5.5px;color:#374151;font-weight:400;transform-origin:0 0;transform:scaleX(0.9686);">35%</div>
<div class="r" style="left:655.90px;top:203.00px;width:49.40px;height:24.00px;background:#fce7fe;border-radius:2px"></div>
<div class="t" style="left:660.25px;top:209px;font-size:5.4px;line-height:5.4px;color:#374151;font-weight:400;transform-origin:0 0;transform:scaleX(1.0554);">2668</div>
<div class="t" style="left:660.25px;top:217px;font-size:5.5px;line-height:5.5px;color:#374151;font-weight:400;transform-origin:0 0;transform:scaleX(0.9686);">55%</div>
<div class="r" style="left:655.90px;top:228.15px;width:49.40px;height:24.00px;background:#f9fafb;border:0.7px dotted #e6e8ec;border-radius:2px"></div>
<div class="t" style="left:660.25px;top:234px;font-size:5.4px;line-height:5.4px;color:#4b5563;font-weight:400;transform-origin:0 0;transform:scaleX(1.0554);">1005</div>
<div class="t" style="left:660.25px;top:242px;font-size:5.5px;line-height:5.5px;color:#4b5563;font-weight:400;transform-origin:0 0;transform:scaleX(0.9686);">33%</div>
<div class="r" style="left:655.90px;top:253.30px;width:49.40px;height:24.00px;background:#f9fafb;border:0.7px dotted #e6e8ec;border-radius:2px"></div>
<div class="t" style="left:660.25px;top:263px;font-size:5.4px;line-height:5.4px;color:#4b5563;font-weight:400;transform-origin:0 0;transform:scaleX(1.0554);">0</div>
<div class="r" style="left:655.90px;top:278.45px;width:49.40px;height:24.00px;background:#f9fafb;border:0.7px dotted #e6e8ec;border-radius:2px"></div>
<div class="t" style="left:660.25px;top:288px;font-size:5.4px;line-height:5.4px;color:#4b5563;font-weight:400;transform-origin:0 0;transform:scaleX(1.0554);">0</div>
<div class="r" style="left:655.90px;top:303.60px;width:49.40px;height:24.00px;background:#f9fafb;border:0.7px dotted #e6e8ec;border-radius:2px"></div>
<div class="t" style="left:660.25px;top:313px;font-size:5.4px;line-height:5.4px;color:#4b5563;font-weight:400;transform-origin:0 0;transform:scaleX(1.0554);">0</div>
<div class="r" style="left:655.90px;top:328.75px;width:49.40px;height:24.00px;background:#f9fafb;border:0.7px dotted #e6e8ec;border-radius:2px"></div>
<div class="t" style="left:660.25px;top:339px;font-size:5.4px;line-height:5.4px;color:#4b5563;font-weight:400;transform-origin:0 0;transform:scaleX(1.0554);">0</div>
<div class="t" style="left:710.65px;top:136px;font-size:5.65px;line-height:5.65px;color:#111827;font-weight:400;transform-origin:0 0;transform:scaleX(0.9107);text-shadow:0.3px 0 0 #111827;">Group #7</div>
<div class="t" style="left:710.65px;top:143px;font-size:5.4px;line-height:5.4px;color:#6b7280;font-weight:400;transform-origin:0 0;transform:scaleX(0.9064);">Total 9517</div>
<div class="r" style="left:706.30px;top:152.70px;width:49.40px;height:24.00px;background:#f7cdfc;border-radius:2px"></div>
<div class="t" style="left:710.65px;top:159px;font-size:5.4px;line-height:5.4px;color:#374151;font-weight:400;transform-origin:0 0;transform:scaleX(1.0554);">4788</div>
<div class="t" style="left:710.65px;top:167px;font-size:5.5px;line-height:5.5px;color:#374151;font-weight:400;transform-origin:0 0;transform:scaleX(0.9686);">70%</div>
<div class="r" style="left:706.30px;top:177.85px;width:49.40px;height:24.00px;background:#fce7fe;border-radius:2px"></div>
<div class="t" style="left:710.65px;top:184px;font-size:5.4px;line-height:5.4px;color:#374151;font-weight:400;transform-origin:0 0;transform:scaleX(1.0554);">2676</div>
<div class="t" style="left:710.65px;top:192px;font-size:5.5px;line-height:5.5px;color:#374151;font-weight:400;transform-origin:0 0;transform:scaleX(0.9686);">13%</div>
<div class="r" style="left:706.30px;top:203.00px;width:49.40px;height:24.00px;background:#f9fafb;border:0.7px dotted #e6e8ec;border-radius:2px"></div>
<div class="t" style="left:710.65px;top:209px;font-size:5.4px;line-height:5.4px;color:#4b5563;font-weight:400;transform-origin:0 0;transform:scaleX(1.0554);">1528</div>
<div class="t" style="left:710.65px;top:217px;font-size:5.5px;line-height:5.5px;color:#4b5563;font-weight:400;transform-origin:0 0;transform:scaleX(0.9686);">81%</div>
<div class="r" style="left:706.30px;top:228.15px;width:49.40px;height:24.00px;background:#f9fafb;border:0.7px dotted #e6e8ec;border-radius:2px"></div>
<div class="t" style="left:710.65px;top:234px;font-size:5.4px;line-height:5.4px;color:#4b5563;font-weight:400;transform-origin:0 0;transform:scaleX(1.0554);">525</div>
<div class="t" style="left:710.65px;top:242px;font-size:5.5px;line-height:5.5px;color:#4b5563;font-weight:400;transform-origin:0 0;transform:scaleX(0.9686);">36%</div>
<div class="r" style="left:706.30px;top:253.30px;width:49.40px;height:24.00px;background:#f9fafb;border:0.7px dotted #e6e8ec;border-radius:2px"></div>
<div class="t" style="left:710.65px;top:263px;font-size:5.4px;line-height:5.4px;color:#4b5563;font-weight:400;transform-origin:0 0;transform:scaleX(1.0554);">0</div>
<div class="r" style="left:706.30px;top:278.45px;width:49.40px;height:24.00px;background:#f9fafb;border:0.7px dotted #e6e8ec;border-radius:2px"></div>
<div class="t" style="left:710.65px;top:288px;font-size:5.4px;line-height:5.4px;color:#4b5563;font-weight:400;transform-origin:0 0;transform:scaleX(1.0554);">0</div>
<div class="r" style="left:706.30px;top:303.60px;width:49.40px;height:24.00px;background:#f9fafb;border:0.7px dotted #e6e8ec;border-radius:2px"></div>
<div class="t" style="left:710.65px;top:313px;font-size:5.4px;line-height:5.4px;color:#4b5563;font-weight:400;transform-origin:0 0;transform:scaleX(1.0554);">0</div>
<div class="r" style="left:706.30px;top:328.75px;width:49.40px;height:24.00px;background:#f9fafb;border:0.7px dotted #e6e8ec;border-radius:2px"></div>
<div class="t" style="left:710.65px;top:339px;font-size:5.4px;line-height:5.4px;color:#4b5563;font-weight:400;transform-origin:0 0;transform:scaleX(1.0554);">0</div>
<div class="t" style="left:760.85px;top:136px;font-size:5.65px;line-height:5.65px;color:#111827;font-weight:400;transform-origin:0 0;transform:scaleX(0.9107);text-shadow:0.3px 0 0 #111827;">Group #8</div>
<div class="t" style="left:760.85px;top:143px;font-size:5.4px;line-height:5.4px;color:#6b7280;font-weight:400;transform-origin:0 0;transform:scaleX(0.9064);">Total 8863</div>
<div class="r" style="left:756.50px;top:152.70px;width:49.40px;height:24.00px;background:#fce7fe;border-radius:2px"></div>
<div class="t" style="left:760.85px;top:159px;font-size:5.4px;line-height:5.4px;color:#374151;font-weight:400;transform-origin:0 0;transform:scaleX(1.0554);">4798</div>
<div class="t" style="left:760.85px;top:167px;font-size:5.5px;line-height:5.5px;color:#374151;font-weight:400;transform-origin:0 0;transform:scaleX(0.9686);">83%</div>
<div class="r" style="left:756.50px;top:177.85px;width:49.40px;height:24.00px;background:#f9fafb;border:0.7px dotted #e6e8ec;border-radius:2px"></div>
<div class="t" style="left:760.85px;top:184px;font-size:5.4px;line-height:5.4px;color:#4b5563;font-weight:400;transform-origin:0 0;transform:scaleX(1.0554);">2589</div>
<div class="t" style="left:760.85px;top:192px;font-size:5.5px;line-height:5.5px;color:#4b5563;font-weight:400;transform-origin:0 0;transform:scaleX(0.9686);">92%</div>
<div class="r" style="left:756.50px;top:203.00px;width:49.40px;height:24.00px;background:#f9fafb;border:0.7px dotted #e6e8ec;border-radius:2px"></div>
<div class="t" style="left:760.85px;top:209px;font-size:5.4px;line-height:5.4px;color:#4b5563;font-weight:400;transform-origin:0 0;transform:scaleX(1.0554);">1240</div>
<div class="t" style="left:760.85px;top:217px;font-size:5.5px;line-height:5.5px;color:#4b5563;font-weight:400;transform-origin:0 0;transform:scaleX(0.9686);">79%</div>
<div class="r" style="left:756.50px;top:228.15px;width:49.40px;height:24.00px;background:#f9fafb;border:0.7px dotted #e6e8ec;border-radius:2px"></div>
<div class="t" style="left:760.85px;top:234px;font-size:5.4px;line-height:5.4px;color:#4b5563;font-weight:400;transform-origin:0 0;transform:scaleX(1.0554);">236</div>
<div class="t" style="left:760.85px;top:242px;font-size:5.5px;line-height:5.5px;color:#4b5563;font-weight:400;transform-origin:0 0;transform:scaleX(0.9686);">21%</div>
<div class="r" style="left:756.50px;top:253.30px;width:49.40px;height:24.00px;background:#f9fafb;border:0.7px dotted #e6e8ec;border-radius:2px"></div>
<div class="t" style="left:760.85px;top:263px;font-size:5.4px;line-height:5.4px;color:#4b5563;font-weight:400;transform-origin:0 0;transform:scaleX(1.0554);">0</div>
<div class="r" style="left:756.50px;top:278.45px;width:49.40px;height:24.00px;background:#f9fafb;border:0.7px dotted #e6e8ec;border-radius:2px"></div>
<div class="t" style="left:760.85px;top:288px;font-size:5.4px;line-height:5.4px;color:#4b5563;font-weight:400;transform-origin:0 0;transform:scaleX(1.0554);">0</div>
<div class="r" style="left:756.50px;top:303.60px;width:49.40px;height:24.00px;background:#f9fafb;border:0.7px dotted #e6e8ec;border-radius:2px"></div>
<div class="t" style="left:760.85px;top:313px;font-size:5.4px;line-height:5.4px;color:#4b5563;font-weight:400;transform-origin:0 0;transform:scaleX(1.0554);">0</div>
<div class="r" style="left:756.50px;top:328.75px;width:49.40px;height:24.00px;background:#f9fafb;border:0.7px dotted #e6e8ec;border-radius:2px"></div>
<div class="t" style="left:760.85px;top:339px;font-size:5.4px;line-height:5.4px;color:#4b5563;font-weight:400;transform-origin:0 0;transform:scaleX(1.0554);">0</div>
<div class="t" style="left:811.15px;top:136px;font-size:5.65px;line-height:5.65px;color:#111827;font-weight:400;transform-origin:0 0;transform:scaleX(0.9107);text-shadow:0.3px 0 0 #111827;">Group #9</div>
<div class="t" style="left:811.15px;top:143px;font-size:5.4px;line-height:5.4px;color:#6b7280;font-weight:400;transform-origin:0 0;transform:scaleX(0.9064);">Total 7120</div>
<div class="r" style="left:806.80px;top:152.70px;width:49.40px;height:24.00px;background:#f9fafb;border:0.7px dotted #e6e8ec;border-radius:2px"></div>
<div class="t" style="left:811.15px;top:159px;font-size:5.4px;line-height:5.4px;color:#4b5563;font-weight:400;transform-origin:0 0;transform:scaleX(1.0554);">4512</div>
<div class="t" style="left:811.15px;top:167px;font-size:5.5px;line-height:5.5px;color:#4b5563;font-weight:400;transform-origin:0 0;transform:scaleX(0.9686);">64%</div>
<div class="r" style="left:806.80px;top:177.85px;width:49.40px;height:24.00px;background:#f9fafb;border:0.7px dotted #e6e8ec;border-radius:2px"></div>
<div class="t" style="left:811.15px;top:188px;font-size:5.4px;line-height:5.4px;color:#4b5563;font-weight:400;transform-origin:0 0;transform:scaleX(1.0554);">0</div>
<div class="r" style="left:806.80px;top:203.00px;width:49.40px;height:24.00px;background:#f9fafb;border:0.7px dotted #e6e8ec;border-radius:2px"></div>
<div class="t" style="left:811.15px;top:213px;font-size:5.4px;line-height:5.4px;color:#4b5563;font-weight:400;transform-origin:0 0;transform:scaleX(1.0554);">0</div>
<div class="r" style="left:806.80px;top:228.15px;width:49.40px;height:24.00px;background:#f9fafb;border:0.7px dotted #e6e8ec;border-radius:2px"></div>
<div class="t" style="left:811.15px;top:238px;font-size:5.4px;line-height:5.4px;color:#4b5563;font-weight:400;transform-origin:0 0;transform:scaleX(1.0554);">0</div>
<div class="r" style="left:806.80px;top:253.30px;width:49.40px;height:24.00px;background:#f9fafb;border:0.7px dotted #e6e8ec;border-radius:2px"></div>
<div class="t" style="left:811.15px;top:263px;font-size:5.4px;line-height:5.4px;color:#4b5563;font-weight:400;transform-origin:0 0;transform:scaleX(1.0554);">0</div>
<div class="r" style="left:806.80px;top:278.45px;width:49.40px;height:24.00px;background:#f9fafb;border:0.7px dotted #e6e8ec;border-radius:2px"></div>
<div class="t" style="left:811.15px;top:288px;font-size:5.4px;line-height:5.4px;color:#4b5563;font-weight:400;transform-origin:0 0;transform:scaleX(1.0554);">0</div>
<div class="r" style="left:806.80px;top:303.60px;width:49.40px;height:24.00px;background:#f9fafb;border:0.7px dotted #e6e8ec;border-radius:2px"></div>
<div class="t" style="left:811.15px;top:313px;font-size:5.4px;line-height:5.4px;color:#4b5563;font-weight:400;transform-origin:0 0;transform:scaleX(1.0554);">0</div>
<div class="r" style="left:806.80px;top:328.75px;width:49.40px;height:24.00px;background:#f9fafb;border:0.7px dotted #e6e8ec;border-radius:2px"></div>
<div class="t" style="left:811.15px;top:339px;font-size:5.4px;line-height:5.4px;color:#4b5563;font-weight:400;transform-origin:0 0;transform:scaleX(1.0554);">0</div>
<div class="t" style="left:297.95px;top:383px;font-size:7.7px;line-height:7.7px;color:#111827;font-weight:400;transform-origin:0 0;transform:scaleX(1.0110);text-shadow:0.3px 0 0 #111827;">Important information</div>
<div class="r" style="left:297.40px;top:400.60px;width:373.00px;height:179.40px;border:0.9px solid #eff1f3;border-radius:3px"></div>
<div class="r" style="left:297.40px;top:419.80px;width:373.00px;height:0.90px;background:#eff1f3"></div>
<div class="t" style="left:306.95px;top:408px;font-size:6.1px;line-height:6.1px;color:#111827;font-weight:400;transform-origin:0 0;transform:scaleX(1.0100);text-shadow:0.3px 0 0 #111827;">Important metrics</div>
<div class="t" style="left:307.15px;top:431px;font-size:6.25px;line-height:6.25px;color:#4b5563;font-weight:400;transform-origin:0 0;transform:scaleX(0.8760);">Total users</div>
<div class="t" style="left:307.15px;top:440px;font-size:9.3px;line-height:9.3px;color:#111827;font-weight:400;transform-origin:0 0;transform:scaleX(0.9976);text-shadow:0.3px 0 0 #111827;"><span style="margin:0 -0.8px">1</span>2,847</div>
<svg class="abs" style="left:338.69px;top:440.70px" width="7" height="7" viewBox="0 0 7 7"><circle cx="3.3" cy="3.3" r="2.8" fill="none" stroke="#16a34a" stroke-width="0.9"/><circle cx="3.3" cy="3.3" r="1.0" fill="#16a34a"/></svg>
<div class="t" style="left:346.54px;top:442px;font-size:5.95px;line-height:5.95px;color:#16a34a;font-weight:400;transform-origin:0 0;transform:scaleX(0.8757);text-shadow:0.3px 0 0 #16a34a;">15%</div>
<div class="t" style="left:307.15px;top:460px;font-size:6.25px;line-height:6.25px;color:#4b5563;font-weight:400;transform-origin:0 0;transform:scaleX(0.8760);">Monthly revenue</div>
<div class="t" style="left:307.15px;top:469px;font-size:9.3px;line-height:9.3px;color:#111827;font-weight:400;transform-origin:0 0;transform:scaleX(0.9976);text-shadow:0.3px 0 0 #111827;">89,567</div>
<svg class="abs" style="left:340.29px;top:469.80px" width="7" height="7" viewBox="0 0 7 7"><circle cx="3.3" cy="3.3" r="2.8" fill="none" stroke="#16a34a" stroke-width="0.9"/><circle cx="3.3" cy="3.3" r="1.0" fill="#16a34a"/></svg>
<div class="t" style="left:348.14px;top:471px;font-size:5.95px;line-height:5.95px;color:#16a34a;font-weight:400;transform-origin:0 0;transform:scaleX(0.8757);text-shadow:0.3px 0 0 #16a34a;">12%</div>
<div class="t" style="left:307.15px;top:489px;font-size:6.25px;line-height:6.25px;color:#4b5563;font-weight:400;transform-origin:0 0;transform:scaleX(0.8760);">Page views</div>
<div class="t" style="left:307.15px;top:498px;font-size:9.3px;line-height:9.3px;color:#111827;font-weight:400;transform-origin:0 0;transform:scaleX(0.9976);text-shadow:0.3px 0 0 #111827;"><span style="margin:0 -0.8px">1</span>56,789</div>
<svg class="abs" style="left:343.80px;top:498.90px" width="7" height="7" viewBox="0 0 7 7"><circle cx="3.3" cy="3.3" r="2.8" fill="none" stroke="#16a34a" stroke-width="0.9"/><circle cx="3.3" cy="3.3" r="1.0" fill="#16a34a"/></svg>
<div class="t" style="left:351.65px;top:500px;font-size:5.95px;line-height:5.95px;color:#16a34a;font-weight:400;transform-origin:0 0;transform:scaleX(0.8757);text-shadow:0.3px 0 0 #16a34a;">18%</div>
<div class="t" style="left:307.15px;top:518px;font-size:6.25px;line-height:6.25px;color:#4b5563;font-weight:400;transform-origin:0 0;transform:scaleX(0.8760);">Email opens</div>
<div class="t" style="left:307.15px;top:527px;font-size:9.3px;line-height:9.3px;color:#111827;font-weight:400;transform-origin:0 0;transform:scaleX(0.9976);text-shadow:0.3px 0 0 #111827;">23,456</div>
<svg class="abs" style="left:340.29px;top:528.00px" width="7" height="7" viewBox="0 0 7 7"><circle cx="3.3" cy="3.3" r="2.8" fill="none" stroke="#16a34a" stroke-width="0.9"/><circle cx="3.3" cy="3.3" r="1.0" fill="#16a34a"/></svg>
<div class="t" style="left:348.14px;top:529px;font-size:5.95px;line-height:5.95px;color:#16a34a;font-weight:400;transform-origin:0 0;transform:scaleX(0.8757);text-shadow:0.3px 0 0 #16a34a;">9%</div>
<div class="t" style="left:397.95px;top:431px;font-size:6.25px;line-height:6.25px;color:#4b5563;font-weight:400;transform-origin:0 0;transform:scaleX(0.8760);">Active users</div>
<div class="t" style="left:397.95px;top:440px;font-size:9.3px;line-height:9.3px;color:#111827;font-weight:400;transform-origin:0 0;transform:scaleX(0.9976);text-shadow:0.3px 0 0 #111827;">8,932</div>
<svg class="abs" style="left:425.89px;top:440.70px" width="7" height="7" viewBox="0 0 7 7"><circle cx="3.3" cy="3.3" r="2.8" fill="none" stroke="#16a34a" stroke-width="0.9"/><circle cx="3.3" cy="3.3" r="1.0" fill="#16a34a"/></svg>
<div class="t" style="left:433.74px;top:442px;font-size:5.95px;line-height:5.95px;color:#16a34a;font-weight:400;transform-origin:0 0;transform:scaleX(0.8757);text-shadow:0.3px 0 0 #16a34a;">8%</div>
<div class="t" style="left:397.95px;top:460px;font-size:6.25px;line-height:6.25px;color:#4b5563;font-weight:400;transform-origin:0 0;transform:scaleX(0.8760);">Conversion rate</div>
<div class="t" style="left:397.95px;top:469px;font-size:9.3px;line-height:9.3px;color:#111827;font-weight:400;transform-origin:0 0;transform:scaleX(0.9976);text-shadow:0.3px 0 0 #111827;">3.4</div>
<svg class="abs" style="left:415.60px;top:469.80px" width="7" height="7" viewBox="0 0 7 7"><circle cx="3.3" cy="3.3" r="2.8" fill="none" stroke="#6b7280" stroke-width="0.9"/><circle cx="3.3" cy="3.3" r="1.0" fill="#6b7280"/></svg>
<div class="t" style="left:423.45px;top:471px;font-size:5.95px;line-height:5.95px;color:#6b7280;font-weight:400;transform-origin:0 0;transform:scaleX(0.8757);text-shadow:0.3px 0 0 #6b7280;">0%</div>
<div class="t" style="left:397.95px;top:489px;font-size:6.25px;line-height:6.25px;color:#4b5563;font-weight:400;transform-origin:0 0;transform:scaleX(0.8760);">Support tickets</div>
<div class="t" style="left:397.95px;top:498px;font-size:9.3px;line-height:9.3px;color:#111827;font-weight:400;transform-origin:0 0;transform:scaleX(0.9976);text-shadow:0.3px 0 0 #111827;">89</div>
<svg class="abs" style="left:413.00px;top:498.90px" width="7" height="7" viewBox="0 0 7 7"><circle cx="3.3" cy="3.3" r="2.8" fill="none" stroke="#dc2626" stroke-width="0.9"/><circle cx="3.3" cy="3.3" r="1.0" fill="#dc2626"/></svg>
<div class="t" style="left:420.85px;top:500px;font-size:5.95px;line-height:5.95px;color:#dc2626;font-weight:400;transform-origin:0 0;transform:scaleX(0.8757);text-shadow:0.3px 0 0 #dc2626;">12%</div>
<div class="t" style="left:397.95px;top:518px;font-size:6.25px;line-height:6.25px;color:#4b5563;font-weight:400;transform-origin:0 0;transform:scaleX(0.8760);">Social shares</div>
<div class="t" style="left:397.95px;top:527px;font-size:9.3px;line-height:9.3px;color:#111827;font-weight:400;transform-origin:0 0;transform:scaleX(0.9976);text-shadow:0.3px 0 0 #111827;"><span style="margin:0 -0.8px">1</span>,234</div>
<svg class="abs" style="left:424.30px;top:528.00px" width="7" height="7" viewBox="0 0 7 7"><circle cx="3.3" cy="3.3" r="2.8" fill="none" stroke="#16a34a" stroke-width="0.9"/><circle cx="3.3" cy="3.3" r="1.0" fill="#16a34a"/></svg>
<div class="t" style="left:432.15px;top:529px;font-size:5.95px;line-height:5.95px;color:#16a34a;font-weight:400;transform-origin:0 0;transform:scaleX(0.8757);text-shadow:0.3px 0 0 #16a34a;">14%</div>
<div class="t" style="left:488.55px;top:431px;font-size:6.25px;line-height:6.25px;color:#4b5563;font-weight:400;transform-origin:0 0;transform:scaleX(0.8760);">New signups</div>
<div class="t" style="left:488.55px;top:440px;font-size:9.3px;line-height:9.3px;color:#111827;font-weight:400;transform-origin:0 0;transform:scaleX(0.9976);text-shadow:0.3px 0 0 #111827;"><span style="margin:0 -0.8px">1</span>,456</div>
<svg class="abs" style="left:514.90px;top:440.70px" width="7" height="7" viewBox="0 0 7 7"><circle cx="3.3" cy="3.3" r="2.8" fill="none" stroke="#16a34a" stroke-width="0.9"/><circle cx="3.3" cy="3.3" r="1.0" fill="#16a34a"/></svg>
<div class="t" style="left:522.75px;top:442px;font-size:5.95px;line-height:5.95px;color:#16a34a;font-weight:400;transform-origin:0 0;transform:scaleX(0.8757);text-shadow:0.3px 0 0 #16a34a;">23%</div>
<div class="t" style="left:488.55px;top:460px;font-size:6.25px;line-height:6.25px;color:#4b5563;font-weight:400;transform-origin:0 0;transform:scaleX(0.8760);">Avg session time</div>
<div class="t" style="left:488.55px;top:469px;font-size:9.3px;line-height:9.3px;color:#111827;font-weight:400;transform-origin:0 0;transform:scaleX(0.9976);text-shadow:0.3px 0 0 #111827;">247</div>
<svg class="abs" style="left:508.79px;top:469.80px" width="7" height="7" viewBox="0 0 7 7"><circle cx="3.3" cy="3.3" r="2.8" fill="none" stroke="#16a34a" stroke-width="0.9"/><circle cx="3.3" cy="3.3" r="1.0" fill="#16a34a"/></svg>
<div class="t" style="left:516.64px;top:471px;font-size:5.95px;line-height:5.95px;color:#16a34a;font-weight:400;transform-origin:0 0;transform:scaleX(0.8757);text-shadow:0.3px 0 0 #16a34a;">7%</div>
<div class="t" style="left:488.55px;top:489px;font-size:6.25px;line-height:6.25px;color:#4b5563;font-weight:400;transform-origin:0 0;transform:scaleX(0.8760);">Customer satisfaction</div>
<div class="t" style="left:488.55px;top:498px;font-size:9.3px;line-height:9.3px;color:#111827;font-weight:400;transform-origin:0 0;transform:scaleX(0.9976);text-shadow:0.3px 0 0 #111827;">4.7</div>
<svg class="abs" style="left:506.20px;top:498.90px" width="7" height="7" viewBox="0 0 7 7"><circle cx="3.3" cy="3.3" r="2.8" fill="none" stroke="#16a34a" stroke-width="0.9"/><circle cx="3.3" cy="3.3" r="1.0" fill="#16a34a"/></svg>
<div class="t" style="left:514.05px;top:500px;font-size:5.95px;line-height:5.95px;color:#16a34a;font-weight:400;transform-origin:0 0;transform:scaleX(0.8757);text-shadow:0.3px 0 0 #16a34a;">2%</div>
<div class="t" style="left:488.55px;top:518px;font-size:6.25px;line-height:6.25px;color:#4b5563;font-weight:400;transform-origin:0 0;transform:scaleX(0.8760);">API calls</div>
<div class="t" style="left:488.55px;top:527px;font-size:9.3px;line-height:9.3px;color:#111827;font-weight:400;transform-origin:0 0;transform:scaleX(0.9976);text-shadow:0.3px 0 0 #111827;">456,789</div>
<svg class="abs" style="left:526.79px;top:528.00px" width="7" height="7" viewBox="0 0 7 7"><circle cx="3.3" cy="3.3" r="2.8" fill="none" stroke="#16a34a" stroke-width="0.9"/><circle cx="3.3" cy="3.3" r="1.0" fill="#16a34a"/></svg>
<div class="t" style="left:534.64px;top:529px;font-size:5.95px;line-height:5.95px;color:#16a34a;font-weight:400;transform-origin:0 0;transform:scaleX(0.8757);text-shadow:0.3px 0 0 #16a34a;">6%</div>
<div class="t" style="left:579.95px;top:431px;font-size:6.25px;line-height:6.25px;color:#4b5563;font-weight:400;transform-origin:0 0;transform:scaleX(0.8760);">Churn rate</div>
<div class="t" style="left:579.95px;top:440px;font-size:9.3px;line-height:9.3px;color:#111827;font-weight:400;transform-origin:0 0;transform:scaleX(0.9976);text-shadow:0.3px 0 0 #111827;">234</div>
<svg class="abs" style="left:600.19px;top:440.70px" width="7" height="7" viewBox="0 0 7 7"><circle cx="3.3" cy="3.3" r="2.8" fill="none" stroke="#dc2626" stroke-width="0.9"/><circle cx="3.3" cy="3.3" r="1.0" fill="#dc2626"/></svg>
<div class="t" style="left:608.04px;top:442px;font-size:5.95px;line-height:5.95px;color:#dc2626;font-weight:400;transform-origin:0 0;transform:scaleX(0.8757);text-shadow:0.3px 0 0 #dc2626;">5%</div>
<div class="t" style="left:579.95px;top:460px;font-size:6.25px;line-height:6.25px;color:#4b5563;font-weight:400;transform-origin:0 0;transform:scaleX(0.8760);">Bounce rate</div>
<div class="t" style="left:579.95px;top:469px;font-size:9.3px;line-height:9.3px;color:#111827;font-weight:400;transform-origin:0 0;transform:scaleX(0.9976);text-shadow:0.3px 0 0 #111827;">42.8</div>
<svg class="abs" style="left:602.79px;top:469.80px" width="7" height="7" viewBox="0 0 7 7"><circle cx="3.3" cy="3.3" r="2.8" fill="none" stroke="#dc2626" stroke-width="0.9"/><circle cx="3.3" cy="3.3" r="1.0" fill="#dc2626"/></svg>
<div class="t" style="left:610.64px;top:471px;font-size:5.95px;line-height:5.95px;color:#dc2626;font-weight:400;transform-origin:0 0;transform:scaleX(0.8757);text-shadow:0.3px 0 0 #dc2626;">3%</div>
<div class="t" style="left:579.95px;top:489px;font-size:6.25px;line-height:6.25px;color:#4b5563;font-weight:400;transform-origin:0 0;transform:scaleX(0.8760);">Mobile users</div>
<div class="t" style="left:579.95px;top:498px;font-size:9.3px;line-height:9.3px;color:#111827;font-weight:400;transform-origin:0 0;transform:scaleX(0.9976);text-shadow:0.3px 0 0 #111827;">7,834</div>
<svg class="abs" style="left:607.89px;top:498.90px" width="7" height="7" viewBox="0 0 7 7"><circle cx="3.3" cy="3.3" r="2.8" fill="none" stroke="#16a34a" stroke-width="0.9"/><circle cx="3.3" cy="3.3" r="1.0" fill="#16a34a"/></svg>
<div class="t" style="left:615.74px;top:500px;font-size:5.95px;line-height:5.95px;color:#16a34a;font-weight:400;transform-origin:0 0;transform:scaleX(0.8757);text-shadow:0.3px 0 0 #16a34a;">25%</div>
<div class="t" style="left:579.95px;top:518px;font-size:6.25px;line-height:6.25px;color:#4b5563;font-weight:400;transform-origin:0 0;transform:scaleX(0.8760);">Server uptime</div>
<div class="t" style="left:579.95px;top:527px;font-size:9.3px;line-height:9.3px;color:#111827;font-weight:400;transform-origin:0 0;transform:scaleX(0.9976);text-shadow:0.3px 0 0 #111827;">99.9</div>
<svg class="abs" style="left:602.79px;top:528.00px" width="7" height="7" viewBox="0 0 7 7"><circle cx="3.3" cy="3.3" r="2.8" fill="none" stroke="#6b7280" stroke-width="0.9"/><circle cx="3.3" cy="3.3" r="1.0" fill="#6b7280"/></svg>
<div class="t" style="left:610.64px;top:529px;font-size:5.95px;line-height:5.95px;color:#6b7280;font-weight:400;transform-origin:0 0;transform:scaleX(0.8757);text-shadow:0.3px 0 0 #6b7280;">0%</div>
<div class="r" style="left:679.60px;top:400.20px;width:186.70px;height:179.80px;border:0.9px solid #eff1f3;border-radius:3px;background:#fff"></div>
<div class="t" style="left:689.45px;top:408px;font-size:6.25px;line-height:6.25px;color:#111827;font-weight:400;transform-origin:0 0;transform:scaleX(0.9581);text-shadow:0.3px 0 0 #111827;">Top earnings</div>
<div class="r" style="left:680.40px;top:419.90px;width:185.10px;height:13.60px;background:#f8f9fb;border-top:0.9px solid #eff1f3;border-bottom:0.9px solid #eff1f3"></div>
<div class="t" style="left:689.45px;top:424px;font-size:6.25px;line-height:6.25px;color:#111827;font-weight:400;transform-origin:0 0;transform:scaleX(0.8544);text-shadow:0.3px 0 0 #111827;">Day</div>
<div class="t" style="left:753.55px;top:424px;font-size:6.25px;line-height:6.25px;color:#111827;font-weight:400;transform-origin:0 0;transform:scaleX(0.8544);text-shadow:0.3px 0 0 #111827;">Income</div>
<div class="t" style="left:808.35px;top:424px;font-size:6.25px;line-height:6.25px;color:#111827;font-weight:400;transform-origin:0 0;transform:scaleX(0.8544);text-shadow:0.3px 0 0 #111827;">Expenses</div>
<div class="t" style="left:689.45px;top:440px;font-size:5.65px;line-height:5.65px;color:#4b5563;font-weight:400;transform-origin:0 0;transform:scaleX(0.9666);">22-10-2025</div>
<div class="t" style="left:753.55px;top:440px;font-size:5.65px;line-height:5.65px;color:#4b5563;font-weight:400;transform-origin:0 0;transform:scaleX(0.9666);">$2,341.89</div>
<div class="t" style="left:808.35px;top:440px;font-size:5.65px;line-height:5.65px;color:#4b5563;font-weight:400;transform-origin:0 0;transform:scaleX(0.9666);">$1,876.45</div>
<div class="r" style="left:680.40px;top:450.10px;width:185.10px;height:0.90px;background:#eff1f3"></div>
<div class="t" style="left:689.45px;top:456px;font-size:5.65px;line-height:5.65px;color:#4b5563;font-weight:400;transform-origin:0 0;transform:scaleX(0.9666);">23-10-2025</div>
<div class="t" style="left:753.55px;top:456px;font-size:5.65px;line-height:5.65px;color:#4b5563;font-weight:400;transform-origin:0 0;transform:scaleX(0.9666);">$1,987.23</div>
<div class="t" style="left:808.35px;top:456px;font-size:5.65px;line-height:5.65px;color:#4b5563;font-weight:400;transform-origin:0 0;transform:scaleX(0.9666);">$2,109.67</div>
<div class="r" style="left:680.40px;top:466.73px;width:185.10px;height:0.90px;background:#eff1f3"></div>
<div class="t" style="left:689.45px;top:473px;font-size:5.65px;line-height:5.65px;color:#4b5563;font-weight:400;transform-origin:0 0;transform:scaleX(0.9666);">24-10-2025</div>
<div class="t" style="left:753.55px;top:473px;font-size:5.65px;line-height:5.65px;color:#4b5563;font-weight:400;transform-origin:0 0;transform:scaleX(0.9666);">$3,456.78</div>
<div class="t" style="left:808.35px;top:473px;font-size:5.65px;line-height:5.65px;color:#4b5563;font-weight:400;transform-origin:0 0;transform:scaleX(0.9666);">$1,543.21</div>
<div class="r" style="left:680.40px;top:483.36px;width:185.10px;height:0.90px;background:#eff1f3"></div>
<div class="t" style="left:689.45px;top:490px;font-size:5.65px;line-height:5.65px;color:#4b5563;font-weight:400;transform-origin:0 0;transform:scaleX(0.9666);">25-10-2025</div>
<div class="t" style="left:753.55px;top:490px;font-size:5.65px;line-height:5.65px;color:#4b5563;font-weight:400;transform-origin:0 0;transform:scaleX(0.9666);">$1,765.43</div>
<div class="t" style="left:808.35px;top:490px;font-size:5.65px;line-height:5.65px;color:#4b5563;font-weight:400;transform-origin:0 0;transform:scaleX(0.9666);">$2,987.65</div>
<div class="r" style="left:680.40px;top:499.99px;width:185.10px;height:0.90px;background:#eff1f3"></div>
<div class="t" style="left:689.45px;top:506px;font-size:5.65px;line-height:5.65px;color:#4b5563;font-weight:400;transform-origin:0 0;transform:scaleX(0.9666);">26-10-2025</div>
<div class="t" style="left:753.55px;top:506px;font-size:5.65px;line-height:5.65px;color:#4b5563;font-weight:400;transform-origin:0 0;transform:scaleX(0.9666);">$2,876.54</div>
<div class="t" style="left:808.35px;top:506px;font-size:5.65px;line-height:5.65px;color:#4b5563;font-weight:400;transform-origin:0 0;transform:scaleX(0.9666);">$1,234.56</div>
<div class="r" style="left:680.40px;top:516.62px;width:185.10px;height:0.90px;background:#eff1f3"></div>
<div class="t" style="left:689.45px;top:523px;font-size:5.65px;line-height:5.65px;color:#4b5563;font-weight:400;transform-origin:0 0;transform:scaleX(0.9666);">27-10-2025</div>
<div class="t" style="left:753.55px;top:523px;font-size:5.65px;line-height:5.65px;color:#4b5563;font-weight:400;transform-origin:0 0;transform:scaleX(0.9666);">$1,543.21</div>
<div class="t" style="left:808.35px;top:523px;font-size:5.65px;line-height:5.65px;color:#4b5563;font-weight:400;transform-origin:0 0;transform:scaleX(0.9666);">$2,765.43</div>
<div class="r" style="left:680.40px;top:533.25px;width:185.10px;height:0.90px;background:#eff1f3"></div>
<div class="t" style="left:689.45px;top:540px;font-size:5.65px;line-height:5.65px;color:#4b5563;font-weight:400;transform-origin:0 0;transform:scaleX(0.9666);">28-10-2025</div>
<div class="t" style="left:753.55px;top:540px;font-size:5.65px;line-height:5.65px;color:#4b5563;font-weight:400;transform-origin:0 0;transform:scaleX(0.9666);">$3,210.98</div>
<div class="t" style="left:808.35px;top:540px;font-size:5.65px;line-height:5.65px;color:#4b5563;font-weight:400;transform-origin:0 0;transform:scaleX(0.9666);">$1,987.65</div>
<div class="r" style="left:680.40px;top:549.88px;width:185.10px;height:0.90px;background:#eff1f3"></div>
</div>
</div>
<div class="r" style="left:801px;top:112px;width:186.2px;height:206.9px;background:#fff;border-radius:5px;box-shadow:0 4px 14px rgba(40,0,40,.18),0 0 0 0.5px rgba(0,0,0,.04)"></div>
<div class="t" style="left:809.85px;top:119px;font-size:6.4px;line-height:6.4px;color:#111827;font-weight:400;transform-origin:0 0;transform:scaleX(0.9627);text-shadow:0.3px 0 0 #111827;">Doughnut chart</div>
<div class="r" style="left:801.00px;top:131.10px;width:186.20px;height:0.80px;background:#eef0f2"></div>
<div class="t" style="left:809.85px;top:143px;font-size:5.65px;line-height:5.65px;color:#111827;font-weight:400;transform-origin:0 0;transform:scaleX(1.0135);text-shadow:0.3px 0 0 #111827;">Doughnut chart</div>
<div class="t" style="left:809.85px;top:150px;font-size:5.65px;line-height:5.65px;color:#6b7280;font-weight:400;transform-origin:0 0;transform:scaleX(0.9887);">Expenditure data from the past half year</div>
<svg class="abs" style="left:830px;top:160px" width="130" height="125" viewBox="830 160 130 125"><path d="M894.00 165.00 A56.5 56.5 0 0 1 927.21 175.79 L910.63 198.60 A28.3 28.3 0 0 0 894.00 193.20 Z" fill="#711779" stroke="#fff" stroke-width="0.25"/><path d="M927.21 175.79 A56.5 56.5 0 0 1 947.73 238.96 L920.91 230.25 A28.3 28.3 0 0 0 910.63 198.60 Z" fill="#a500b5" stroke="#fff" stroke-width="0.25"/><path d="M947.73 238.96 A56.5 56.5 0 0 1 860.79 267.21 L877.37 244.40 A28.3 28.3 0 0 0 920.91 230.25 Z" fill="#e12ef6" stroke="#fff" stroke-width="0.25"/><path d="M860.79 267.21 A56.5 56.5 0 0 1 894.00 165.00 L894.00 193.20 A28.3 28.3 0 0 0 877.37 244.40 Z" fill="#f0a9f9" stroke="#fff" stroke-width="0.25"/></svg>
<div class="r" style="left:801.00px;top:286.80px;width:186.20px;height:0.80px;background:#eef0f2"></div>
<div class="t" style="left:809.85px;top:298px;font-size:5.95px;line-height:5.95px;color:#111827;font-weight:400;transform-origin:0 0;transform:scaleX(0.9525);text-shadow:0.3px 0 0 #111827;">Monthly growth increased by 11.2%</div>
<div class="t" style="left:809.85px;top:306px;font-size:5.5px;line-height:5.5px;color:#6b7280;font-weight:400;transform-origin:0 0;transform:scaleX(1.0189);">Expenditure from the previous half year</div>
<div class="r" style="left:78px;top:296.2px;width:191.6px;height:155.2px;background:#121725;border:0.9px solid #1e2533;border-radius:3.5px;box-shadow:0 8px 24px rgba(0,0,0,.35);overflow:hidden"><div style="height:19.3px;background:#181e2c;border-bottom:0.9px solid #1f2636"></div></div>
<div class="t" style="left:84.35px;top:304px;font-size:5.65px;line-height:5.65px;color:#f3f4f6;font-weight:400;transform-origin:0 0;transform:scaleX(0.9939);text-shadow:0.3px 0 0 #f3f4f6;">Product performance in last 28 days</div>
<svg class="abs" style="left:78px;top:316px" width="192" height="134" viewBox="78 316 192 134"><line x1="96.80" y1="326" x2="96.80" y2="427" stroke="#333b4b" stroke-width="0.6" stroke-dasharray="0.9 1.9"/><line x1="109.49" y1="326" x2="109.49" y2="427" stroke="#333b4b" stroke-width="0.6" stroke-dasharray="0.9 1.9"/><line x1="122.19" y1="326" x2="122.19" y2="427" stroke="#333b4b" stroke-width="0.6" stroke-dasharray="0.9 1.9"/><line x1="134.89" y1="326" x2="134.89" y2="427" stroke="#333b4b" stroke-width="0.6" stroke-dasharray="0.9 1.9"/><line x1="147.58" y1="326" x2="147.58" y2="427" stroke="#333b4b" stroke-width="0.6" stroke-dasharray="0.9 1.9"/><line x1="160.28" y1="326" x2="160.28" y2="427" stroke="#333b4b" stroke-width="0.6" stroke-dasharray="0.9 1.9"/><line x1="172.97" y1="326" x2="172.97" y2="427" stroke="#333b4b" stroke-width="0.6" stroke-dasharray="0.9 1.9"/><line x1="185.67" y1="326" x2="185.67" y2="427" stroke="#333b4b" stroke-width="0.6" stroke-dasharray="0.9 1.9"/><line x1="198.37" y1="326" x2="198.37" y2="427" stroke="#333b4b" stroke-width="0.6" stroke-dasharray="0.9 1.9"/><line x1="211.06" y1="326" x2="211.06" y2="427" stroke="#333b4b" stroke-width="0.6" stroke-dasharray="0.9 1.9"/><line x1="223.76" y1="326" x2="223.76" y2="427" stroke="#333b4b" stroke-width="0.6" stroke-dasharray="0.9 1.9"/><line x1="236.45" y1="326" x2="236.45" y2="427" stroke="#333b4b" stroke-width="0.6" stroke-dasharray="0.9 1.9"/><line x1="249.15" y1="326" x2="249.15" y2="427" stroke="#333b4b" stroke-width="0.6" stroke-dasharray="0.9 1.9"/><line x1="86" y1="377.3" x2="262" y2="377.3" stroke="#333b4b" stroke-width="0.6" stroke-dasharray="1.2 2"/><rect x="89.85" y="353.75" width="1.2" height="21.80" fill="#9a2ef0"/><rect x="89.85" y="379.2" width="1.2" height="43.60" fill="#e2c0fd"/><rect x="96.20" y="341.60" width="1.2" height="33.95" fill="#9a2ef0"/><rect x="96.20" y="379.2" width="1.2" height="28.40" fill="#e2c0fd"/><rect x="102.55" y="339.80" width="1.2" height="35.75" fill="#9a2ef0"/><rect x="102.55" y="379.2" width="1.2" height="16.60" fill="#e2c0fd"/><rect x="108.89" y="343.00" width="1.2" height="32.55" fill="#9a2ef0"/><rect x="108.89" y="379.2" width="1.2" height="25.30" fill="#e2c0fd"/><rect x="115.24" y="355.20" width="1.2" height="20.35" fill="#9a2ef0"/><rect x="115.24" y="379.2" width="1.2" height="43.60" fill="#e2c0fd"/><rect x="121.59" y="356.90" width="1.2" height="18.65" fill="#9a2ef0"/><rect x="121.59" y="379.2" width="1.2" height="19.90" fill="#e2c0fd"/><rect x="127.94" y="344.90" width="1.2" height="30.65" fill="#9a2ef0"/><rect x="127.94" y="379.2" width="1.2" height="28.40" fill="#e2c0fd"/><rect x="134.29" y="356.90" width="1.2" height="18.65" fill="#9a2ef0"/><rect x="134.29" y="379.2" width="1.2" height="43.60" fill="#e2c0fd"/><rect x="140.63" y="356.90" width="1.2" height="18.65" fill="#9a2ef0"/><rect x="140.63" y="379.2" width="1.2" height="11.70" fill="#e2c0fd"/><rect x="146.98" y="338.10" width="1.2" height="37.45" fill="#9a2ef0"/><rect x="146.98" y="379.2" width="1.2" height="19.90" fill="#e2c0fd"/><rect x="153.33" y="350.00" width="1.2" height="25.55" fill="#9a2ef0"/><rect x="153.33" y="379.2" width="1.2" height="25.30" fill="#e2c0fd"/><rect x="159.68" y="362.00" width="1.2" height="13.55" fill="#9a2ef0"/><rect x="159.68" y="379.2" width="1.2" height="16.60" fill="#e2c0fd"/><rect x="166.03" y="360.20" width="1.2" height="15.35" fill="#9a2ef0"/><rect x="166.03" y="379.2" width="1.2" height="11.70" fill="#e2c0fd"/><rect x="172.37" y="356.90" width="1.2" height="18.65" fill="#9a2ef0"/><rect x="172.37" y="379.2" width="1.2" height="37.00" fill="#e2c0fd"/><rect x="178.72" y="338.10" width="1.2" height="37.45" fill="#9a2ef0"/><rect x="178.72" y="379.2" width="1.2" height="14.70" fill="#e2c0fd"/><rect x="185.07" y="344.70" width="1.2" height="30.85" fill="#9a2ef0"/><rect x="185.07" y="379.2" width="1.2" height="13.30" fill="#e2c0fd"/><rect x="191.42" y="331.50" width="1.2" height="44.05" fill="#9a2ef0"/><rect x="191.42" y="379.2" width="1.2" height="21.30" fill="#e2c0fd"/><rect x="197.77" y="353.75" width="1.2" height="21.80" fill="#9a2ef0"/><rect x="197.77" y="379.2" width="1.2" height="43.60" fill="#e2c0fd"/><rect x="204.11" y="360.40" width="1.2" height="15.15" fill="#9a2ef0"/><rect x="204.11" y="379.2" width="1.2" height="30.80" fill="#e2c0fd"/><rect x="210.46" y="355.20" width="1.2" height="20.35" fill="#9a2ef0"/><rect x="210.46" y="379.2" width="1.2" height="28.40" fill="#e2c0fd"/><rect x="216.81" y="343.30" width="1.2" height="32.25" fill="#9a2ef0"/><rect x="216.81" y="379.2" width="1.2" height="35.60" fill="#e2c0fd"/><rect x="223.16" y="333.20" width="1.2" height="42.35" fill="#9a2ef0"/><rect x="223.16" y="379.2" width="1.2" height="30.30" fill="#e2c0fd"/><rect x="229.51" y="348.50" width="1.2" height="27.05" fill="#9a2ef0"/><rect x="229.51" y="379.2" width="1.2" height="18.50" fill="#e2c0fd"/><rect x="235.85" y="355.20" width="1.2" height="20.35" fill="#9a2ef0"/><rect x="235.85" y="379.2" width="1.2" height="14.70" fill="#e2c0fd"/><rect x="242.20" y="341.70" width="1.2" height="33.85" fill="#9a2ef0"/><rect x="242.20" y="379.2" width="1.2" height="33.20" fill="#e2c0fd"/><rect x="248.55" y="340.00" width="1.2" height="35.55" fill="#9a2ef0"/><rect x="248.55" y="379.2" width="1.2" height="30.30" fill="#e2c0fd"/><rect x="254.90" y="356.90" width="1.2" height="18.65" fill="#9a2ef0"/><rect x="254.90" y="379.2" width="1.2" height="33.20" fill="#e2c0fd"/><polyline points="90.45,358.00 96.80,349.50 103.15,344.90 109.49,349.50 115.84,363.20 122.19,363.20 128.54,352.30 134.89,365.60 141.23,361.80 147.58,345.20 153.93,357.10 160.28,370.80 166.63,367.00 172.97,365.60 179.32,343.30 185.67,351.40 192.02,338.10 198.37,358.50 204.71,365.60 211.06,362.30 217.41,353.30 223.76,339.10 230.11,357.10 236.45,359.90 242.80,348.50 249.15,346.60 255.50,363.20" fill="none" stroke="#a855f7" stroke-width="0.9" stroke-linejoin="miter"/><text x="88.15" y="438.3" font-size="4.4" fill="#d2d6dc" text-anchor="middle" transform="rotate(-45 88.15 436.6)" font-family="Liberation Sans">Tue</text><text x="100.85" y="438.3" font-size="4.4" fill="#d2d6dc" text-anchor="middle" transform="rotate(-45 100.85 436.6)" font-family="Liberation Sans">Thu</text><text x="113.54" y="438.3" font-size="4.4" fill="#d2d6dc" text-anchor="middle" transform="rotate(-45 113.54 436.6)" font-family="Liberation Sans">Sat</text><text x="126.24" y="438.3" font-size="4.4" fill="#d2d6dc" text-anchor="middle" transform="rotate(-45 126.24 436.6)" font-family="Liberation Sans">Mon</text><text x="138.93" y="438.3" font-size="4.4" fill="#d2d6dc" text-anchor="middle" transform="rotate(-45 138.93 436.6)" font-family="Liberation Sans">Wed</text><text x="151.63" y="438.3" font-size="4.4" fill="#d2d6dc" text-anchor="middle" transform="rotate(-45 151.63 436.6)" font-family="Liberation Sans">Fri</text><text x="164.33" y="438.3" font-size="4.4" fill="#d2d6dc" text-anchor="middle" transform="rotate(-45 164.33 436.6)" font-family="Liberation Sans">Sun</text><text x="177.02" y="438.3" font-size="4.4" fill="#d2d6dc" text-anchor="middle" transform="rotate(-45 177.02 436.6)" font-family="Liberation Sans">Tue</text><text x="189.72" y="438.3" font-size="4.4" fill="#d2d6dc" text-anchor="middle" transform="rotate(-45 189.72 436.6)" font-family="Liberation Sans">Thu</text><text x="202.41" y="438.3" font-size="4.4" fill="#d2d6dc" text-anchor="middle" transform="rotate(-45 202.41 436.6)" font-family="Liberation Sans">Sat</text><text x="215.11" y="438.3" font-size="4.4" fill="#d2d6dc" text-anchor="middle" transform="rotate(-45 215.11 436.6)" font-family="Liberation Sans">Mon</text><text x="227.81" y="438.3" font-size="4.4" fill="#d2d6dc" text-anchor="middle" transform="rotate(-45 227.81 436.6)" font-family="Liberation Sans">Wed</text><text x="240.50" y="438.3" font-size="4.4" fill="#d2d6dc" text-anchor="middle" transform="rotate(-45 240.50 436.6)" font-family="Liberation Sans">Fri</text><text x="253.20" y="438.3" font-size="4.4" fill="#d2d6dc" text-anchor="middle" transform="rotate(-45 253.20 436.6)" font-family="Liberation Sans">Sun</text></svg>
</body></html>
